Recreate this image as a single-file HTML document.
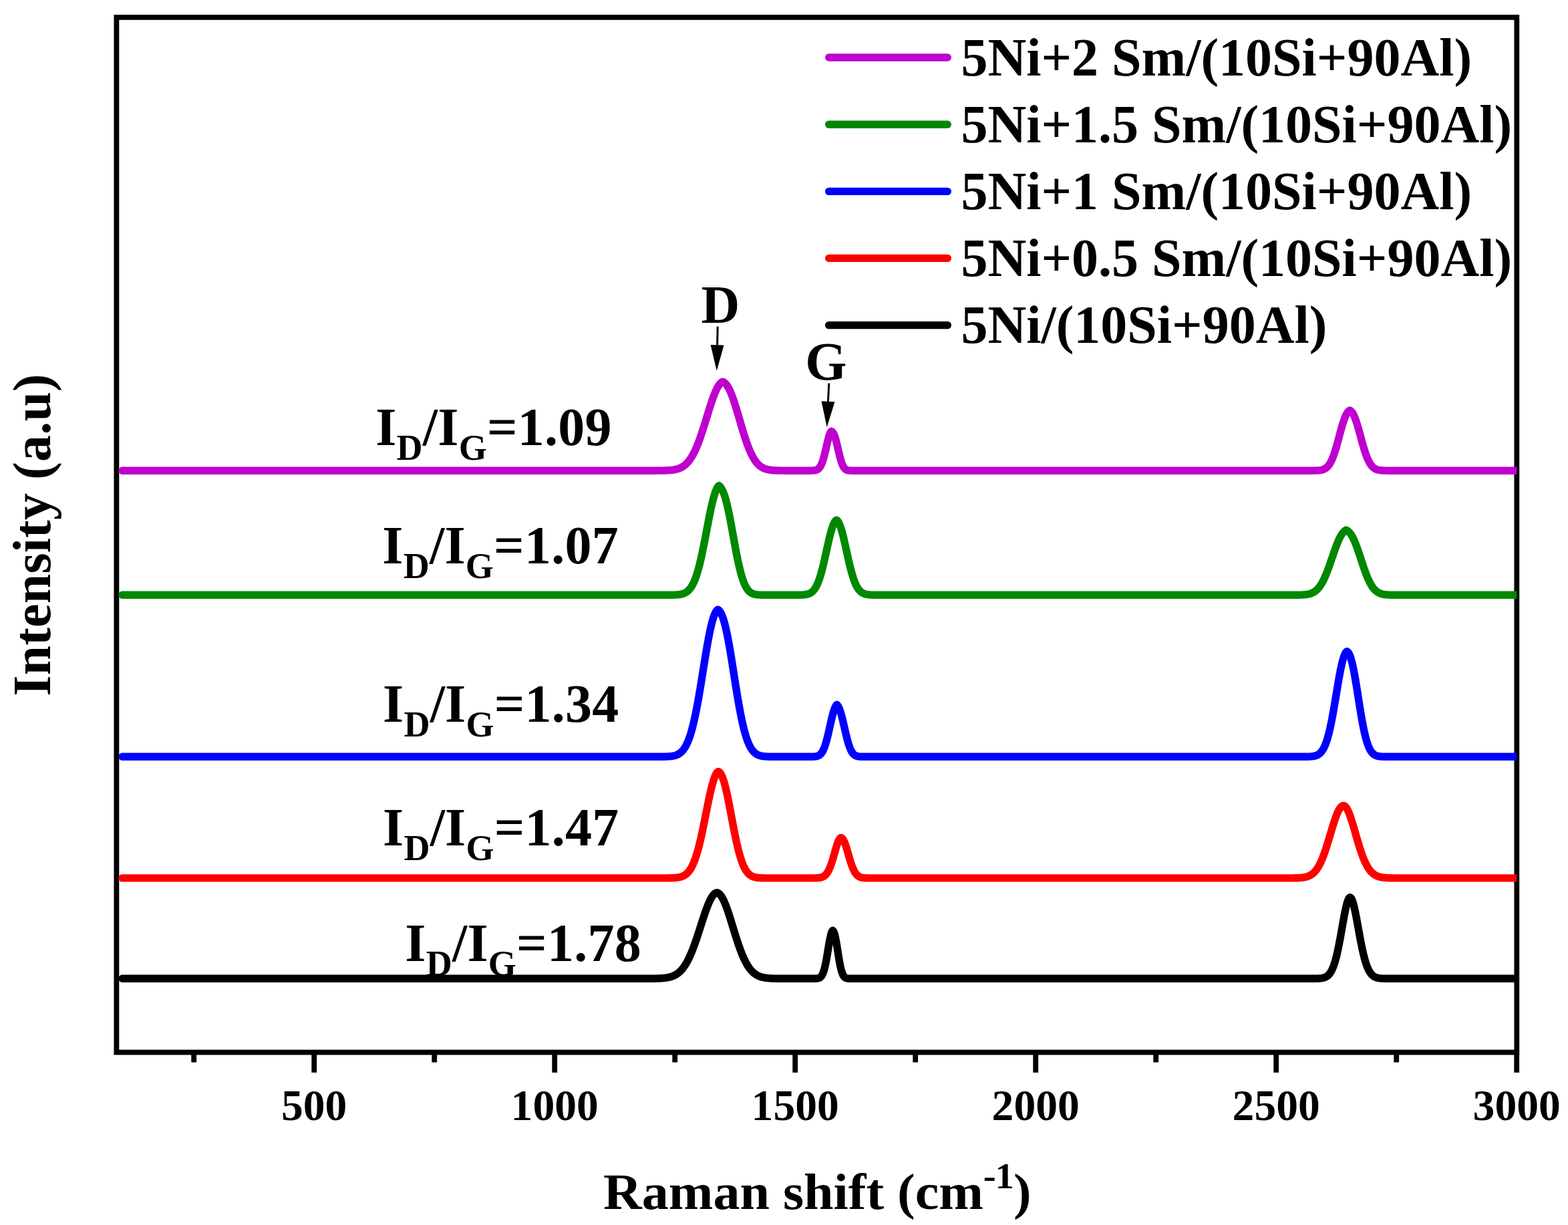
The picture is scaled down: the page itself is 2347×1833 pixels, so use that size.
<!DOCTYPE html>
<html lang="en"><head><meta charset="utf-8"><title>Raman spectra</title>
<style>html,body{margin:0;padding:0;background:#fff}body{width:2347px;height:1833px;overflow:hidden}svg{display:block}</style></head>
<body>
<svg width="2347" height="1833" viewBox="0 0 2347 1833">
<rect x="0" y="0" width="2347" height="1833" fill="#ffffff"/>
<g font-family="'Liberation Serif', serif" font-weight="bold" fill="#000">
<rect x="174.4" y="25.9" width="2095.9" height="1548.6999999999998" fill="none" stroke="#000" stroke-width="7.8"/>
<line x1="470.2" y1="1574.6" x2="470.2" y2="1604.9" stroke="#000" stroke-width="7.8"/>
<text x="470.2" y="1676.3" font-size="65.6" text-anchor="middle">500</text>
<line x1="830.2" y1="1574.6" x2="830.2" y2="1604.9" stroke="#000" stroke-width="7.8"/>
<text x="830.2" y="1676.3" font-size="65.6" text-anchor="middle">1000</text>
<line x1="1190.2" y1="1574.6" x2="1190.2" y2="1604.9" stroke="#000" stroke-width="7.8"/>
<text x="1190.2" y="1676.3" font-size="65.6" text-anchor="middle">1500</text>
<line x1="1550.2" y1="1574.6" x2="1550.2" y2="1604.9" stroke="#000" stroke-width="7.8"/>
<text x="1550.2" y="1676.3" font-size="65.6" text-anchor="middle">2000</text>
<line x1="1910.2" y1="1574.6" x2="1910.2" y2="1604.9" stroke="#000" stroke-width="7.8"/>
<text x="1910.2" y="1676.3" font-size="65.6" text-anchor="middle">2500</text>
<line x1="2270.2" y1="1574.6" x2="2270.2" y2="1604.9" stroke="#000" stroke-width="7.8"/>
<text x="2270.2" y="1676.3" font-size="65.6" text-anchor="middle">3000</text>
<line x1="290.2" y1="1574.6" x2="290.2" y2="1589.6" stroke="#000" stroke-width="7.8"/>
<line x1="650.2" y1="1574.6" x2="650.2" y2="1589.6" stroke="#000" stroke-width="7.8"/>
<line x1="1010.2" y1="1574.6" x2="1010.2" y2="1589.6" stroke="#000" stroke-width="7.8"/>
<line x1="1370.2" y1="1574.6" x2="1370.2" y2="1589.6" stroke="#000" stroke-width="7.8"/>
<line x1="1730.2" y1="1574.6" x2="1730.2" y2="1589.6" stroke="#000" stroke-width="7.8"/>
<line x1="2090.2" y1="1574.6" x2="2090.2" y2="1589.6" stroke="#000" stroke-width="7.8"/>
<text transform="translate(1223.3 1809.4) scale(1 0.945)" font-size="80" text-anchor="middle">Raman shift (cm<tspan font-size="57" dy="-32.9" letter-spacing="-1.2">-1</tspan><tspan dy="32.9">)</tspan></text>
<text transform="translate(75.3 800.4) rotate(-90)" font-size="80" text-anchor="middle" letter-spacing="0.17">Intensity (a.u)</text>
<text x="562.2" y="665.6" font-size="80" letter-spacing="0.25">I<tspan font-size="54" dy="22.4">D</tspan><tspan dy="-22.4">/I</tspan><tspan font-size="54" dy="22.4">G</tspan><tspan dy="-22.4">=1.09</tspan></text>
<text x="572.3" y="842.7" font-size="80" letter-spacing="0.25">I<tspan font-size="54" dy="22.4">D</tspan><tspan dy="-22.4">/I</tspan><tspan font-size="54" dy="22.4">G</tspan><tspan dy="-22.4">=1.07</tspan></text>
<text x="573.0" y="1079.7" font-size="80" letter-spacing="0.25">I<tspan font-size="54" dy="22.4">D</tspan><tspan dy="-22.4">/I</tspan><tspan font-size="54" dy="22.4">G</tspan><tspan dy="-22.4">=1.34</tspan></text>
<text x="573.0" y="1264.9" font-size="80" letter-spacing="0.25">I<tspan font-size="54" dy="22.4">D</tspan><tspan dy="-22.4">/I</tspan><tspan font-size="54" dy="22.4">G</tspan><tspan dy="-22.4">=1.47</tspan></text>
<text x="606.3" y="1437.8" font-size="80" letter-spacing="0.25">I<tspan font-size="54" dy="22.4">D</tspan><tspan dy="-22.4">/I</tspan><tspan font-size="54" dy="22.4">G</tspan><tspan dy="-22.4">=1.78</tspan></text>
<text x="1078.4" y="482.6" font-size="80" text-anchor="middle">D</text>
<text x="1236.3" y="567.7" font-size="80" text-anchor="middle">G</text>
<line x1="1074.2" y1="488.6" x2="1073.6" y2="516.3" stroke="#000" stroke-width="3.0"/>
<polygon points="1072.8,554.8 1063.6,516.1 1083.6,516.5" fill="#000"/>
<line x1="1240.8" y1="573.5" x2="1239.5" y2="600.7" stroke="#000" stroke-width="3.0"/>
<polygon points="1237.7,639.2 1229.5,600.3 1249.5,601.2" fill="#000"/>
<line x1="1240.7" y1="86.0" x2="1418.3" y2="86.0" stroke="#bf00cf" stroke-width="11.4" stroke-linecap="round"/>
<text x="1438.5" y="112.6" font-size="80" xml:space="preserve">5Ni+2 Sm/(10Si+90Al)</text>
<line x1="1240.7" y1="186.2" x2="1418.3" y2="186.2" stroke="#008800" stroke-width="11.4" stroke-linecap="round"/>
<text x="1438.5" y="212.8" font-size="80" xml:space="preserve">5Ni+1.5 Sm/(10Si+90Al)</text>
<line x1="1240.7" y1="286.4" x2="1418.3" y2="286.4" stroke="#0000ff" stroke-width="11.4" stroke-linecap="round"/>
<text x="1438.5" y="313.0" font-size="80" xml:space="preserve">5Ni+1 Sm/(10Si+90Al)</text>
<line x1="1240.7" y1="386.4" x2="1418.3" y2="386.4" stroke="#ff0000" stroke-width="11.4" stroke-linecap="round"/>
<text x="1438.5" y="413.0" font-size="80" xml:space="preserve">5Ni+0.5 Sm/(10Si+90Al)</text>
<line x1="1240.7" y1="486.6" x2="1418.3" y2="486.6" stroke="#000000" stroke-width="11.4" stroke-linecap="round"/>
<text x="1438.5" y="513.2" font-size="80" xml:space="preserve">5Ni/(10Si+90Al)</text>
</g>
<defs><clipPath id="cp"><rect x="0" y="0" width="2270.3" height="1833"/></clipPath></defs>
<g fill="none" stroke-linejoin="round" stroke-linecap="round" clip-path="url(#cp)">
<path d="M182.90 1464.30 L923.81 1464.30 L924.31 1464.30 L924.81 1464.30 L925.31 1464.30 L925.81 1464.30 L926.31 1464.30 L926.81 1464.30 L927.31 1464.30 L927.81 1464.30 L928.31 1464.30 L928.81 1464.30 L929.31 1464.30 L929.81 1464.30 L930.31 1464.30 L930.81 1464.30 L931.31 1464.30 L931.81 1464.30 L932.31 1464.30 L932.81 1464.30 L933.31 1464.30 L933.81 1464.30 L934.31 1464.30 L934.81 1464.30 L935.31 1464.30 L935.81 1464.30 L936.31 1464.30 L936.81 1464.30 L937.31 1464.30 L937.81 1464.30 L938.31 1464.30 L938.81 1464.30 L939.31 1464.30 L939.81 1464.30 L940.31 1464.30 L940.81 1464.30 L941.31 1464.30 L941.81 1464.30 L942.31 1464.30 L942.81 1464.30 L943.31 1464.30 L943.81 1464.30 L944.31 1464.30 L944.81 1464.30 L945.31 1464.30 L945.81 1464.30 L946.31 1464.30 L946.81 1464.30 L947.31 1464.30 L947.81 1464.30 L948.31 1464.30 L948.81 1464.30 L949.31 1464.30 L949.81 1464.30 L950.31 1464.30 L950.81 1464.30 L951.31 1464.30 L951.81 1464.30 L952.31 1464.30 L952.81 1464.30 L953.31 1464.30 L953.81 1464.30 L954.31 1464.30 L954.81 1464.30 L955.31 1464.30 L955.81 1464.30 L956.31 1464.30 L956.81 1464.30 L957.31 1464.30 L957.81 1464.30 L958.31 1464.30 L958.81 1464.30 L959.31 1464.30 L959.81 1464.30 L960.31 1464.30 L960.81 1464.29 L961.31 1464.29 L961.81 1464.29 L962.31 1464.29 L962.81 1464.29 L963.31 1464.29 L963.81 1464.29 L964.31 1464.29 L964.81 1464.29 L965.31 1464.29 L965.81 1464.29 L966.31 1464.29 L966.81 1464.29 L967.31 1464.28 L967.81 1464.28 L968.31 1464.28 L968.81 1464.28 L969.31 1464.28 L969.81 1464.28 L970.31 1464.27 L970.81 1464.27 L971.31 1464.27 L971.81 1464.27 L972.31 1464.26 L972.81 1464.26 L973.31 1464.26 L973.81 1464.25 L974.31 1464.25 L974.81 1464.25 L975.31 1464.24 L975.81 1464.24 L976.31 1464.23 L976.81 1464.23 L977.31 1464.22 L977.81 1464.21 L978.31 1464.21 L978.81 1464.20 L979.31 1464.19 L979.81 1464.18 L980.31 1464.17 L980.81 1464.16 L981.31 1464.15 L981.81 1464.14 L982.31 1464.13 L982.81 1464.12 L983.31 1464.10 L983.81 1464.09 L984.31 1464.07 L984.81 1464.06 L985.31 1464.04 L985.81 1464.02 L986.31 1464.00 L986.81 1463.98 L987.31 1463.96 L987.81 1463.93 L988.31 1463.91 L988.81 1463.88 L989.31 1463.85 L989.81 1463.82 L990.31 1463.79 L990.81 1463.75 L991.31 1463.71 L991.81 1463.67 L992.31 1463.63 L992.81 1463.59 L993.31 1463.54 L993.81 1463.49 L994.31 1463.44 L994.81 1463.38 L995.31 1463.32 L995.81 1463.26 L996.31 1463.20 L996.81 1463.13 L997.31 1463.05 L997.81 1462.98 L998.31 1462.89 L998.81 1462.81 L999.31 1462.72 L999.81 1462.62 L1000.31 1462.52 L1000.81 1462.41 L1001.31 1462.30 L1001.81 1462.18 L1002.31 1462.06 L1002.81 1461.93 L1003.31 1461.79 L1003.81 1461.65 L1004.31 1461.50 L1004.81 1461.34 L1005.31 1461.18 L1005.81 1461.00 L1006.31 1460.82 L1006.81 1460.63 L1007.31 1460.43 L1007.81 1460.22 L1008.31 1460.01 L1008.81 1459.78 L1009.31 1459.54 L1009.81 1459.29 L1010.31 1459.03 L1010.81 1458.76 L1011.31 1458.48 L1011.81 1458.19 L1012.31 1457.88 L1012.81 1457.56 L1013.31 1457.23 L1013.81 1456.88 L1014.31 1456.52 L1014.81 1456.15 L1015.31 1455.76 L1015.81 1455.36 L1016.31 1454.94 L1016.81 1454.50 L1017.31 1454.05 L1017.81 1453.58 L1018.31 1453.10 L1018.81 1452.60 L1019.31 1452.08 L1019.81 1451.54 L1020.31 1450.99 L1020.81 1450.41 L1021.31 1449.82 L1021.81 1449.20 L1022.31 1448.57 L1022.81 1447.92 L1023.31 1447.25 L1023.81 1446.55 L1024.31 1445.84 L1024.81 1445.10 L1025.31 1444.35 L1025.81 1443.57 L1026.31 1442.77 L1026.81 1441.95 L1027.31 1441.10 L1027.81 1440.23 L1028.31 1439.34 L1028.81 1438.43 L1029.31 1437.50 L1029.81 1436.54 L1030.31 1435.56 L1030.81 1434.55 L1031.31 1433.53 L1031.81 1432.48 L1032.31 1431.41 L1032.81 1430.31 L1033.31 1429.19 L1033.81 1428.05 L1034.31 1426.89 L1034.81 1425.71 L1035.31 1424.50 L1035.81 1423.28 L1036.31 1422.03 L1036.81 1420.76 L1037.31 1419.47 L1037.81 1418.16 L1038.31 1416.83 L1038.81 1415.48 L1039.31 1414.12 L1039.81 1412.73 L1040.31 1411.33 L1040.81 1409.92 L1041.31 1408.48 L1041.81 1407.04 L1042.31 1405.57 L1042.81 1404.10 L1043.31 1402.61 L1043.81 1401.11 L1044.31 1399.60 L1044.81 1398.08 L1045.31 1396.55 L1045.81 1395.01 L1046.31 1393.47 L1046.81 1391.92 L1047.31 1390.37 L1047.81 1388.81 L1048.31 1387.25 L1048.81 1385.69 L1049.31 1384.13 L1049.81 1382.57 L1050.31 1381.02 L1050.81 1379.47 L1051.31 1377.92 L1051.81 1376.38 L1052.31 1374.85 L1052.81 1373.33 L1053.31 1371.82 L1053.81 1370.33 L1054.31 1368.84 L1054.81 1367.38 L1055.31 1365.92 L1055.81 1364.49 L1056.31 1363.08 L1056.81 1361.68 L1057.31 1360.31 L1057.81 1358.97 L1058.31 1357.65 L1058.81 1356.35 L1059.31 1355.09 L1059.81 1353.85 L1060.31 1352.64 L1060.81 1351.47 L1061.31 1350.33 L1061.81 1349.22 L1062.31 1348.15 L1062.81 1347.12 L1063.31 1346.12 L1063.81 1345.16 L1064.31 1344.25 L1064.81 1343.38 L1065.31 1342.54 L1065.81 1341.76 L1066.31 1341.02 L1066.81 1340.32 L1067.31 1339.67 L1067.81 1339.06 L1068.31 1338.51 L1068.81 1338.00 L1069.31 1337.54 L1069.81 1337.14 L1070.31 1336.78 L1070.81 1336.47 L1071.31 1336.22 L1071.81 1336.02 L1072.31 1335.87 L1072.81 1335.77 L1073.31 1335.79 L1073.81 1335.90 L1074.31 1336.05 L1074.81 1336.26 L1075.31 1336.52 L1075.81 1336.84 L1076.31 1337.20 L1076.81 1337.62 L1077.31 1338.09 L1077.81 1338.61 L1078.31 1339.18 L1078.81 1339.81 L1079.31 1340.48 L1079.81 1341.20 L1080.31 1341.97 L1080.81 1342.79 L1081.31 1343.65 L1081.81 1344.56 L1082.31 1345.52 L1082.81 1346.51 L1083.31 1347.55 L1083.81 1348.64 L1084.31 1349.76 L1084.81 1350.92 L1085.31 1352.11 L1085.81 1353.35 L1086.31 1354.62 L1086.81 1355.92 L1087.31 1357.25 L1087.81 1358.61 L1088.31 1360.00 L1088.81 1361.42 L1089.31 1362.86 L1089.81 1364.33 L1090.31 1365.82 L1090.81 1367.33 L1091.31 1368.86 L1091.81 1370.41 L1092.31 1371.97 L1092.81 1373.55 L1093.31 1375.14 L1093.81 1376.74 L1094.31 1378.35 L1094.81 1379.97 L1095.31 1381.59 L1095.81 1383.22 L1096.31 1384.86 L1096.81 1386.49 L1097.31 1388.13 L1097.81 1389.76 L1098.31 1391.39 L1098.81 1393.02 L1099.31 1394.65 L1099.81 1396.26 L1100.31 1397.87 L1100.81 1399.47 L1101.31 1401.06 L1101.81 1402.64 L1102.31 1404.21 L1102.81 1405.76 L1103.31 1407.30 L1103.81 1408.82 L1104.31 1410.33 L1104.81 1411.82 L1105.31 1413.29 L1105.81 1414.74 L1106.31 1416.17 L1106.81 1417.58 L1107.31 1418.98 L1107.81 1420.35 L1108.31 1421.69 L1108.81 1423.02 L1109.31 1424.32 L1109.81 1425.60 L1110.31 1426.85 L1110.81 1428.09 L1111.31 1429.29 L1111.81 1430.47 L1112.31 1431.63 L1112.81 1432.76 L1113.31 1433.86 L1113.81 1434.95 L1114.31 1436.00 L1114.81 1437.03 L1115.31 1438.03 L1115.81 1439.01 L1116.31 1439.96 L1116.81 1440.89 L1117.31 1441.79 L1117.81 1442.67 L1118.31 1443.53 L1118.81 1444.35 L1119.31 1445.16 L1119.81 1445.94 L1120.31 1446.69 L1120.81 1447.43 L1121.31 1448.14 L1121.81 1448.82 L1122.31 1449.49 L1122.81 1450.13 L1123.31 1450.75 L1123.81 1451.35 L1124.31 1451.93 L1124.81 1452.49 L1125.31 1453.03 L1125.81 1453.55 L1126.31 1454.04 L1126.81 1454.53 L1127.31 1454.99 L1127.81 1455.43 L1128.31 1455.86 L1128.81 1456.27 L1129.31 1456.66 L1129.81 1457.04 L1130.31 1457.41 L1130.81 1457.75 L1131.31 1458.09 L1131.81 1458.40 L1132.31 1458.71 L1132.81 1459.00 L1133.31 1459.28 L1133.81 1459.54 L1134.31 1459.80 L1134.81 1460.04 L1135.31 1460.27 L1135.81 1460.49 L1136.31 1460.70 L1136.81 1460.90 L1137.31 1461.09 L1137.81 1461.27 L1138.31 1461.45 L1138.81 1461.61 L1139.31 1461.77 L1139.81 1461.91 L1140.31 1462.05 L1140.81 1462.19 L1141.31 1462.31 L1141.81 1462.43 L1142.31 1462.54 L1142.81 1462.65 L1143.31 1462.75 L1143.81 1462.85 L1144.31 1462.94 L1144.81 1463.02 L1145.31 1463.10 L1145.81 1463.18 L1146.31 1463.25 L1146.81 1463.32 L1147.31 1463.38 L1147.81 1463.44 L1148.31 1463.50 L1148.81 1463.55 L1149.31 1463.60 L1149.81 1463.65 L1150.31 1463.69 L1150.81 1463.73 L1151.31 1463.77 L1151.81 1463.81 L1152.31 1463.84 L1152.81 1463.87 L1153.31 1463.90 L1153.81 1463.93 L1154.31 1463.96 L1154.81 1463.98 L1155.31 1464.00 L1155.81 1464.03 L1156.31 1464.05 L1156.81 1464.06 L1157.31 1464.08 L1157.81 1464.10 L1158.31 1464.11 L1158.81 1464.13 L1159.31 1464.14 L1159.81 1464.15 L1160.31 1464.16 L1160.81 1464.17 L1161.31 1464.18 L1161.81 1464.19 L1162.31 1464.20 L1162.81 1464.21 L1163.31 1464.22 L1163.81 1464.22 L1164.31 1464.23 L1164.81 1464.23 L1165.31 1464.24 L1165.81 1464.24 L1166.31 1464.25 L1166.81 1464.25 L1167.31 1464.26 L1167.81 1464.26 L1168.31 1464.26 L1168.81 1464.27 L1169.31 1464.27 L1169.81 1464.27 L1170.31 1464.27 L1170.81 1464.28 L1171.31 1464.28 L1171.81 1464.28 L1172.31 1464.28 L1172.81 1464.28 L1173.31 1464.29 L1173.81 1464.29 L1174.31 1464.29 L1174.81 1464.29 L1175.31 1464.29 L1175.81 1464.29 L1176.31 1464.29 L1176.81 1464.29 L1177.31 1464.29 L1177.81 1464.29 L1178.31 1464.29 L1178.81 1464.29 L1179.31 1464.30 L1179.81 1464.30 L1180.31 1464.30 L1180.81 1464.30 L1181.31 1464.30 L1181.81 1464.30 L1182.31 1464.30 L1182.81 1464.30 L1183.31 1464.30 L1183.81 1464.30 L1184.31 1464.30 L1184.81 1464.30 L1185.31 1464.30 L1185.81 1464.30 L1186.31 1464.30 L1186.81 1464.30 L1187.31 1464.30 L1187.81 1464.30 L1188.31 1464.30 L1188.81 1464.30 L1189.31 1464.30 L1189.81 1464.30 L1190.31 1464.30 L1190.81 1464.30 L1191.31 1464.30 L1191.81 1464.30 L1192.31 1464.30 L1192.81 1464.30 L1193.31 1464.30 L1193.81 1464.30 L1194.31 1464.30 L1194.81 1464.30 L1195.31 1464.30 L1195.81 1464.30 L1196.31 1464.30 L1196.81 1464.30 L1197.31 1464.30 L1197.81 1464.30 L1198.31 1464.30 L1198.81 1464.30 L1199.31 1464.30 L1199.81 1464.30 L1200.31 1464.30 L1200.81 1464.30 L1201.31 1464.30 L1201.56 1464.30 L1201.81 1464.30 L1202.06 1464.30 L1202.31 1464.30 L1202.56 1464.30 L1202.81 1464.30 L1203.06 1464.30 L1203.31 1464.30 L1203.56 1464.30 L1203.81 1464.30 L1204.06 1464.30 L1204.31 1464.30 L1204.56 1464.30 L1204.81 1464.30 L1205.06 1464.30 L1205.31 1464.30 L1205.56 1464.30 L1205.81 1464.30 L1206.06 1464.30 L1206.31 1464.30 L1206.56 1464.30 L1206.81 1464.30 L1207.06 1464.30 L1207.31 1464.30 L1207.56 1464.30 L1207.81 1464.30 L1208.06 1464.30 L1208.31 1464.30 L1208.56 1464.30 L1208.81 1464.30 L1209.06 1464.30 L1209.31 1464.30 L1209.56 1464.30 L1209.81 1464.30 L1210.06 1464.30 L1210.31 1464.30 L1210.56 1464.30 L1210.81 1464.30 L1211.06 1464.30 L1211.31 1464.30 L1211.56 1464.30 L1211.81 1464.30 L1212.06 1464.30 L1212.31 1464.30 L1212.56 1464.30 L1212.81 1464.30 L1213.06 1464.30 L1213.31 1464.30 L1213.56 1464.30 L1213.81 1464.30 L1214.06 1464.30 L1214.31 1464.30 L1214.56 1464.30 L1214.81 1464.30 L1215.06 1464.30 L1215.31 1464.30 L1215.56 1464.30 L1215.81 1464.30 L1216.06 1464.30 L1216.31 1464.30 L1216.56 1464.29 L1216.81 1464.29 L1217.06 1464.29 L1217.31 1464.29 L1217.56 1464.29 L1217.81 1464.29 L1218.06 1464.29 L1218.56 1464.28 L1219.06 1464.27 L1219.56 1464.26 L1220.06 1464.25 L1220.56 1464.24 L1221.06 1464.22 L1221.56 1464.19 L1222.06 1464.16 L1222.56 1464.12 L1223.06 1464.06 L1223.56 1464.00 L1224.06 1463.91 L1224.56 1463.81 L1225.06 1463.68 L1225.56 1463.53 L1226.06 1463.34 L1226.56 1463.11 L1227.06 1462.84 L1227.56 1462.51 L1228.06 1462.12 L1228.56 1461.66 L1229.06 1461.13 L1229.56 1460.50 L1230.06 1459.78 L1230.56 1458.96 L1231.06 1458.01 L1231.56 1456.94 L1232.06 1455.73 L1232.56 1454.38 L1233.06 1452.88 L1233.56 1451.23 L1234.06 1449.41 L1234.56 1447.44 L1235.06 1445.30 L1235.56 1443.01 L1236.06 1440.57 L1236.56 1437.99 L1237.06 1435.28 L1237.56 1432.45 L1238.06 1429.54 L1238.56 1426.55 L1239.06 1423.52 L1239.56 1420.47 L1240.06 1417.44 L1240.56 1414.44 L1241.06 1411.52 L1241.56 1408.70 L1242.06 1406.02 L1242.56 1403.51 L1243.06 1401.20 L1243.56 1399.11 L1244.06 1397.26 L1244.56 1395.68 L1245.06 1394.38 L1245.56 1393.36 L1246.06 1392.62 L1246.56 1392.36 L1247.06 1392.88 L1247.56 1393.62 L1248.06 1394.60 L1248.56 1395.85 L1249.06 1397.36 L1249.56 1399.14 L1250.06 1401.18 L1250.56 1403.45 L1251.06 1405.95 L1251.56 1408.63 L1252.06 1411.49 L1252.56 1414.48 L1253.06 1417.56 L1253.56 1420.71 L1254.06 1423.89 L1254.56 1427.07 L1255.06 1430.20 L1255.56 1433.27 L1256.06 1436.24 L1256.56 1439.09 L1257.06 1441.80 L1257.56 1444.34 L1258.06 1446.72 L1258.56 1448.92 L1259.06 1450.94 L1259.56 1452.77 L1260.06 1454.42 L1260.56 1455.89 L1261.06 1457.20 L1261.56 1458.34 L1262.06 1459.34 L1262.56 1460.20 L1263.06 1460.94 L1263.56 1461.56 L1264.06 1462.09 L1264.56 1462.52 L1265.06 1462.89 L1265.56 1463.18 L1266.06 1463.42 L1266.56 1463.62 L1267.06 1463.77 L1267.56 1463.90 L1268.06 1463.99 L1268.56 1464.07 L1269.06 1464.13 L1269.56 1464.17 L1270.06 1464.21 L1270.56 1464.23 L1271.06 1464.25 L1271.56 1464.26 L1272.06 1464.27 L1272.56 1464.28 L1273.06 1464.29 L1273.56 1464.29 L1274.06 1464.29 L1274.56 1464.30 L1275.06 1464.30 L1275.56 1464.30 L1276.06 1464.30 L1276.56 1464.30 L1277.06 1464.30 L1277.56 1464.30 L1278.06 1464.30 L1278.56 1464.30 L1279.06 1464.30 L1279.56 1464.30 L1280.06 1464.30 L1280.56 1464.30 L1281.06 1464.30 L1281.56 1464.30 L1282.06 1464.30 L1282.56 1464.30 L1283.06 1464.30 L1283.56 1464.30 L1284.06 1464.30 L1284.56 1464.30 L1285.06 1464.30 L1285.56 1464.30 L1286.06 1464.30 L1286.56 1464.30 L1287.06 1464.30 L1287.56 1464.30 L1288.06 1464.30 L1288.56 1464.30 L1289.06 1464.30 L1289.56 1464.30 L1290.06 1464.30 L1290.56 1464.30 L1291.06 1464.30 L1291.56 1464.30 L1292.06 1464.30 L1946.01 1464.30 L1946.51 1464.30 L1947.01 1464.30 L1947.51 1464.30 L1948.01 1464.30 L1948.51 1464.30 L1949.01 1464.30 L1949.51 1464.30 L1950.01 1464.30 L1950.51 1464.30 L1951.01 1464.30 L1951.51 1464.30 L1952.01 1464.30 L1952.51 1464.30 L1953.01 1464.30 L1953.51 1464.30 L1954.01 1464.30 L1954.51 1464.30 L1955.01 1464.30 L1955.51 1464.30 L1956.01 1464.30 L1956.51 1464.30 L1957.01 1464.30 L1957.51 1464.30 L1958.01 1464.30 L1958.51 1464.30 L1959.01 1464.30 L1959.51 1464.30 L1960.01 1464.30 L1960.51 1464.30 L1961.01 1464.30 L1961.51 1464.29 L1962.01 1464.29 L1962.51 1464.29 L1963.01 1464.29 L1963.51 1464.29 L1964.01 1464.29 L1964.51 1464.29 L1965.01 1464.28 L1965.51 1464.28 L1966.01 1464.28 L1966.51 1464.27 L1967.01 1464.27 L1967.51 1464.26 L1968.01 1464.26 L1968.51 1464.25 L1969.01 1464.24 L1969.51 1464.24 L1970.01 1464.23 L1970.51 1464.22 L1971.01 1464.20 L1971.51 1464.19 L1972.01 1464.17 L1972.51 1464.15 L1973.01 1464.13 L1973.51 1464.11 L1974.01 1464.08 L1974.51 1464.05 L1975.01 1464.02 L1975.51 1463.98 L1976.01 1463.94 L1976.51 1463.89 L1977.01 1463.84 L1977.51 1463.78 L1978.01 1463.72 L1978.51 1463.64 L1979.01 1463.56 L1979.51 1463.47 L1980.01 1463.37 L1980.51 1463.26 L1981.01 1463.13 L1981.51 1462.99 L1982.01 1462.84 L1982.51 1462.68 L1983.01 1462.49 L1983.51 1462.29 L1984.01 1462.07 L1984.51 1461.83 L1985.01 1461.56 L1985.51 1461.27 L1986.01 1460.95 L1986.51 1460.61 L1987.01 1460.23 L1987.51 1459.82 L1988.01 1459.38 L1988.51 1458.90 L1989.01 1458.38 L1989.51 1457.82 L1990.01 1457.22 L1990.51 1456.57 L1991.01 1455.88 L1991.51 1455.13 L1992.01 1454.33 L1992.51 1453.47 L1993.01 1452.56 L1993.51 1451.58 L1994.01 1450.54 L1994.51 1449.44 L1995.01 1448.27 L1995.51 1447.03 L1996.01 1445.72 L1996.51 1444.34 L1997.01 1442.88 L1997.51 1441.35 L1998.01 1439.74 L1998.51 1438.05 L1999.01 1436.29 L1999.51 1434.44 L2000.01 1432.52 L2000.51 1430.52 L2001.01 1428.45 L2001.51 1426.30 L2002.01 1424.07 L2002.51 1421.77 L2003.01 1419.40 L2003.51 1416.97 L2004.01 1414.47 L2004.51 1411.92 L2005.01 1409.30 L2005.51 1406.64 L2006.01 1403.93 L2006.51 1401.19 L2007.01 1398.41 L2007.51 1395.61 L2008.01 1392.78 L2008.51 1389.95 L2009.01 1387.11 L2009.51 1384.28 L2010.01 1381.46 L2010.51 1378.67 L2011.01 1375.91 L2011.51 1373.19 L2012.01 1370.53 L2012.51 1367.93 L2013.01 1365.40 L2013.51 1362.95 L2014.01 1360.59 L2014.51 1358.34 L2015.01 1356.20 L2015.51 1354.19 L2016.01 1352.31 L2016.51 1350.57 L2017.01 1348.98 L2017.51 1347.55 L2018.01 1346.29 L2018.51 1345.20 L2019.01 1344.30 L2019.51 1343.60 L2020.01 1343.10 L2020.51 1342.81 L2021.01 1342.78 L2021.51 1343.02 L2022.01 1343.47 L2022.51 1344.13 L2023.01 1344.97 L2023.51 1346.00 L2024.01 1347.20 L2024.51 1348.57 L2025.01 1350.09 L2025.51 1351.77 L2026.01 1353.58 L2026.51 1355.52 L2027.01 1357.58 L2027.51 1359.76 L2028.01 1362.03 L2028.51 1364.40 L2029.01 1366.86 L2029.51 1369.38 L2030.01 1371.97 L2030.51 1374.61 L2031.01 1377.30 L2031.51 1380.02 L2032.01 1382.77 L2032.51 1385.54 L2033.01 1388.32 L2033.51 1391.09 L2034.01 1393.86 L2034.51 1396.62 L2035.01 1399.36 L2035.51 1402.07 L2036.01 1404.74 L2036.51 1407.38 L2037.01 1409.97 L2037.51 1412.51 L2038.01 1414.99 L2038.51 1417.42 L2039.01 1419.79 L2039.51 1422.09 L2040.01 1424.33 L2040.51 1426.49 L2041.01 1428.59 L2041.51 1430.61 L2042.01 1432.56 L2042.51 1434.43 L2043.01 1436.23 L2043.51 1437.96 L2044.01 1439.61 L2044.51 1441.18 L2045.01 1442.69 L2045.51 1444.12 L2046.01 1445.48 L2046.51 1446.77 L2047.01 1447.99 L2047.51 1449.15 L2048.01 1450.24 L2048.51 1451.27 L2049.01 1452.24 L2049.51 1453.15 L2050.01 1454.01 L2050.51 1454.81 L2051.01 1455.56 L2051.51 1456.26 L2052.01 1456.91 L2052.51 1457.52 L2053.01 1458.09 L2053.51 1458.61 L2054.01 1459.10 L2054.51 1459.55 L2055.01 1459.97 L2055.51 1460.36 L2056.01 1460.71 L2056.51 1461.04 L2057.01 1461.34 L2057.51 1461.62 L2058.01 1461.87 L2058.51 1462.11 L2059.01 1462.32 L2059.51 1462.51 L2060.01 1462.69 L2060.51 1462.85 L2061.01 1463.00 L2061.51 1463.13 L2062.01 1463.25 L2062.51 1463.36 L2063.01 1463.46 L2063.51 1463.55 L2064.01 1463.63 L2064.51 1463.70 L2065.01 1463.77 L2065.51 1463.83 L2066.01 1463.88 L2066.51 1463.93 L2067.01 1463.97 L2067.51 1464.01 L2068.01 1464.04 L2068.51 1464.07 L2069.01 1464.10 L2069.51 1464.12 L2070.01 1464.14 L2070.51 1464.16 L2071.01 1464.18 L2071.51 1464.20 L2072.01 1464.21 L2072.51 1464.22 L2073.01 1464.23 L2073.51 1464.24 L2074.01 1464.25 L2074.51 1464.25 L2075.01 1464.26 L2075.51 1464.27 L2076.01 1464.27 L2076.51 1464.27 L2077.01 1464.28 L2077.51 1464.28 L2078.01 1464.28 L2078.51 1464.29 L2079.01 1464.29 L2079.51 1464.29 L2080.01 1464.29 L2080.51 1464.29 L2081.01 1464.29 L2081.51 1464.29 L2082.01 1464.29 L2082.51 1464.30 L2083.01 1464.30 L2083.51 1464.30 L2084.01 1464.30 L2084.51 1464.30 L2085.01 1464.30 L2085.51 1464.30 L2086.01 1464.30 L2086.51 1464.30 L2087.01 1464.30 L2087.51 1464.30 L2088.01 1464.30 L2088.51 1464.30 L2089.01 1464.30 L2089.51 1464.30 L2090.01 1464.30 L2090.51 1464.30 L2091.01 1464.30 L2091.51 1464.30 L2092.01 1464.30 L2092.51 1464.30 L2093.01 1464.30 L2093.51 1464.30 L2094.01 1464.30 L2094.51 1464.30 L2095.01 1464.30 L2095.51 1464.30 L2096.01 1464.30 L2096.51 1464.30 L2270.30 1464.30 L2290.3 1464.30" stroke="#000000" stroke-width="11.4"/>
<path d="M182.90 1313.90 L957.85 1313.90 L958.35 1313.90 L958.85 1313.90 L959.35 1313.90 L959.85 1313.90 L960.35 1313.90 L960.85 1313.90 L961.35 1313.90 L961.85 1313.90 L962.35 1313.90 L962.85 1313.90 L963.35 1313.90 L963.85 1313.90 L964.35 1313.90 L964.85 1313.90 L965.35 1313.90 L965.85 1313.90 L966.35 1313.90 L966.85 1313.90 L967.35 1313.90 L967.85 1313.90 L968.35 1313.90 L968.85 1313.90 L969.35 1313.90 L969.85 1313.90 L970.35 1313.90 L970.85 1313.90 L971.35 1313.90 L971.85 1313.90 L972.35 1313.90 L972.85 1313.90 L973.35 1313.90 L973.85 1313.90 L974.35 1313.90 L974.85 1313.90 L975.35 1313.90 L975.85 1313.90 L976.35 1313.90 L976.85 1313.90 L977.35 1313.90 L977.85 1313.90 L978.35 1313.90 L978.85 1313.90 L979.35 1313.90 L979.85 1313.90 L980.35 1313.90 L980.85 1313.90 L981.35 1313.90 L981.85 1313.90 L982.35 1313.90 L982.85 1313.90 L983.35 1313.90 L983.85 1313.90 L984.35 1313.90 L984.85 1313.90 L985.35 1313.90 L985.85 1313.90 L986.35 1313.90 L986.85 1313.90 L987.35 1313.90 L987.85 1313.90 L988.35 1313.90 L988.85 1313.90 L989.35 1313.90 L989.85 1313.90 L990.35 1313.89 L990.85 1313.89 L991.35 1313.89 L991.85 1313.89 L992.35 1313.89 L992.85 1313.89 L993.35 1313.89 L993.85 1313.89 L994.35 1313.89 L994.85 1313.88 L995.35 1313.88 L995.85 1313.88 L996.35 1313.88 L996.85 1313.87 L997.35 1313.87 L997.85 1313.87 L998.35 1313.86 L998.85 1313.86 L999.35 1313.86 L999.85 1313.85 L1000.35 1313.85 L1000.85 1313.84 L1001.35 1313.83 L1001.85 1313.82 L1002.35 1313.82 L1002.85 1313.81 L1003.35 1313.80 L1003.85 1313.79 L1004.35 1313.77 L1004.85 1313.76 L1005.35 1313.75 L1005.85 1313.73 L1006.35 1313.71 L1006.85 1313.69 L1007.35 1313.67 L1007.85 1313.65 L1008.35 1313.62 L1008.85 1313.59 L1009.35 1313.56 L1009.85 1313.53 L1010.35 1313.50 L1010.85 1313.46 L1011.35 1313.41 L1011.85 1313.37 L1012.35 1313.32 L1012.85 1313.26 L1013.35 1313.20 L1013.85 1313.14 L1014.35 1313.07 L1014.85 1313.00 L1015.35 1312.92 L1015.85 1312.83 L1016.35 1312.74 L1016.85 1312.63 L1017.35 1312.52 L1017.85 1312.41 L1018.35 1312.28 L1018.85 1312.15 L1019.35 1312.00 L1019.85 1311.84 L1020.35 1311.68 L1020.85 1311.50 L1021.35 1311.30 L1021.85 1311.10 L1022.35 1310.88 L1022.85 1310.65 L1023.35 1310.40 L1023.85 1310.13 L1024.35 1309.85 L1024.85 1309.55 L1025.35 1309.22 L1025.85 1308.88 L1026.35 1308.52 L1026.85 1308.14 L1027.35 1307.73 L1027.85 1307.30 L1028.35 1306.85 L1028.85 1306.37 L1029.35 1305.86 L1029.85 1305.32 L1030.35 1304.75 L1030.85 1304.16 L1031.35 1303.53 L1031.85 1302.87 L1032.35 1302.18 L1032.85 1301.45 L1033.35 1300.69 L1033.85 1299.89 L1034.35 1299.05 L1034.85 1298.17 L1035.35 1297.25 L1035.85 1296.30 L1036.35 1295.30 L1036.85 1294.25 L1037.35 1293.17 L1037.85 1292.04 L1038.35 1290.86 L1038.85 1289.64 L1039.35 1288.37 L1039.85 1287.06 L1040.35 1285.70 L1040.85 1284.29 L1041.35 1282.83 L1041.85 1281.32 L1042.35 1279.76 L1042.85 1278.16 L1043.35 1276.50 L1043.85 1274.80 L1044.35 1273.05 L1044.85 1271.24 L1045.35 1269.40 L1045.85 1267.50 L1046.35 1265.56 L1046.85 1263.57 L1047.35 1261.54 L1047.85 1259.46 L1048.35 1257.34 L1048.85 1255.18 L1049.35 1252.98 L1049.85 1250.75 L1050.35 1248.47 L1050.85 1246.16 L1051.35 1243.82 L1051.85 1241.45 L1052.35 1239.06 L1052.85 1236.63 L1053.35 1234.19 L1053.85 1231.72 L1054.35 1229.24 L1054.85 1226.74 L1055.35 1224.23 L1055.85 1221.71 L1056.35 1219.19 L1056.85 1216.67 L1057.35 1214.15 L1057.85 1211.63 L1058.35 1209.12 L1058.85 1206.63 L1059.35 1204.15 L1059.85 1201.69 L1060.35 1199.26 L1060.85 1196.85 L1061.35 1194.48 L1061.85 1192.14 L1062.35 1189.84 L1062.85 1187.58 L1063.35 1185.37 L1063.85 1183.21 L1064.35 1181.10 L1064.85 1179.05 L1065.35 1177.06 L1065.85 1175.14 L1066.35 1173.28 L1066.85 1171.49 L1067.35 1169.78 L1067.85 1168.15 L1068.35 1166.59 L1068.85 1165.12 L1069.35 1163.73 L1069.85 1162.43 L1070.35 1161.22 L1070.85 1160.10 L1071.35 1159.07 L1071.85 1158.14 L1072.35 1157.30 L1072.85 1156.56 L1073.35 1155.92 L1073.85 1155.37 L1074.35 1154.92 L1074.85 1154.56 L1075.35 1154.40 L1075.85 1154.67 L1076.35 1155.01 L1076.85 1155.42 L1077.35 1155.91 L1077.85 1156.49 L1078.35 1157.15 L1078.85 1157.90 L1079.35 1158.74 L1079.85 1159.68 L1080.35 1160.70 L1080.85 1161.81 L1081.35 1163.02 L1081.85 1164.31 L1082.35 1165.70 L1082.85 1167.17 L1083.35 1168.73 L1083.85 1170.37 L1084.35 1172.10 L1084.85 1173.91 L1085.35 1175.79 L1085.85 1177.75 L1086.35 1179.78 L1086.85 1181.88 L1087.35 1184.05 L1087.85 1186.27 L1088.35 1188.56 L1088.85 1190.90 L1089.35 1193.29 L1089.85 1195.72 L1090.35 1198.20 L1090.85 1200.72 L1091.35 1203.27 L1091.85 1205.85 L1092.35 1208.45 L1092.85 1211.08 L1093.35 1213.72 L1093.85 1216.37 L1094.35 1219.04 L1094.85 1221.71 L1095.35 1224.37 L1095.85 1227.04 L1096.35 1229.69 L1096.85 1232.33 L1097.35 1234.96 L1097.85 1237.57 L1098.35 1240.16 L1098.85 1242.72 L1099.35 1245.25 L1099.85 1247.75 L1100.35 1250.21 L1100.85 1252.63 L1101.35 1255.02 L1101.85 1257.36 L1102.35 1259.66 L1102.85 1261.91 L1103.35 1264.11 L1103.85 1266.26 L1104.35 1268.36 L1104.85 1270.40 L1105.35 1272.40 L1105.85 1274.33 L1106.35 1276.21 L1106.85 1278.04 L1107.35 1279.80 L1107.85 1281.51 L1108.35 1283.17 L1108.85 1284.76 L1109.35 1286.30 L1109.85 1287.78 L1110.35 1289.20 L1110.85 1290.57 L1111.35 1291.89 L1111.85 1293.15 L1112.35 1294.35 L1112.85 1295.51 L1113.35 1296.61 L1113.85 1297.66 L1114.35 1298.66 L1114.85 1299.61 L1115.35 1300.52 L1115.85 1301.38 L1116.35 1302.20 L1116.85 1302.97 L1117.35 1303.71 L1117.85 1304.40 L1118.35 1305.05 L1118.85 1305.67 L1119.35 1306.25 L1119.85 1306.80 L1120.35 1307.32 L1120.85 1307.80 L1121.35 1308.25 L1121.85 1308.68 L1122.35 1309.08 L1122.85 1309.45 L1123.35 1309.79 L1123.85 1310.12 L1124.35 1310.42 L1124.85 1310.70 L1125.35 1310.96 L1125.85 1311.21 L1126.35 1311.43 L1126.85 1311.64 L1127.35 1311.83 L1127.85 1312.01 L1128.35 1312.18 L1128.85 1312.33 L1129.35 1312.47 L1129.85 1312.60 L1130.35 1312.72 L1130.85 1312.82 L1131.35 1312.92 L1131.85 1313.02 L1132.35 1313.10 L1132.85 1313.18 L1133.35 1313.25 L1133.85 1313.31 L1134.35 1313.37 L1134.85 1313.42 L1135.35 1313.47 L1135.85 1313.51 L1136.35 1313.55 L1136.85 1313.59 L1137.35 1313.62 L1137.85 1313.65 L1138.35 1313.68 L1138.85 1313.70 L1139.35 1313.72 L1139.85 1313.74 L1140.35 1313.76 L1140.85 1313.77 L1141.35 1313.79 L1141.85 1313.80 L1142.35 1313.81 L1142.85 1313.82 L1143.35 1313.83 L1143.85 1313.84 L1144.35 1313.85 L1144.85 1313.85 L1145.35 1313.86 L1145.85 1313.86 L1146.35 1313.87 L1146.85 1313.87 L1147.35 1313.88 L1147.85 1313.88 L1148.35 1313.88 L1148.85 1313.88 L1149.35 1313.89 L1149.85 1313.89 L1150.35 1313.89 L1150.85 1313.89 L1151.35 1313.89 L1151.85 1313.89 L1152.35 1313.89 L1152.85 1313.89 L1153.35 1313.90 L1153.85 1313.90 L1154.35 1313.90 L1154.85 1313.90 L1155.35 1313.90 L1155.85 1313.90 L1156.35 1313.90 L1156.85 1313.90 L1157.35 1313.90 L1157.85 1313.90 L1158.35 1313.90 L1158.85 1313.90 L1159.35 1313.90 L1159.85 1313.90 L1160.35 1313.90 L1160.85 1313.90 L1161.35 1313.90 L1161.85 1313.90 L1162.35 1313.90 L1162.85 1313.90 L1163.35 1313.90 L1163.85 1313.90 L1164.35 1313.90 L1164.85 1313.90 L1165.35 1313.90 L1165.85 1313.90 L1166.35 1313.90 L1166.85 1313.90 L1167.35 1313.90 L1167.85 1313.90 L1168.35 1313.90 L1168.85 1313.90 L1169.35 1313.90 L1169.85 1313.90 L1170.35 1313.90 L1170.85 1313.90 L1171.35 1313.90 L1171.85 1313.90 L1172.35 1313.90 L1172.85 1313.90 L1173.35 1313.90 L1173.85 1313.90 L1174.35 1313.90 L1174.85 1313.90 L1175.35 1313.90 L1175.85 1313.90 L1176.35 1313.90 L1176.85 1313.90 L1177.35 1313.90 L1177.85 1313.90 L1178.35 1313.90 L1178.85 1313.90 L1179.35 1313.90 L1179.85 1313.90 L1180.35 1313.90 L1180.85 1313.90 L1181.35 1313.90 L1181.85 1313.90 L1182.35 1313.90 L1182.85 1313.90 L1183.35 1313.90 L1183.85 1313.90 L1184.35 1313.90 L1184.85 1313.90 L1185.35 1313.90 L1185.85 1313.90 L1186.35 1313.90 L1186.85 1313.90 L1187.35 1313.90 L1187.85 1313.90 L1188.35 1313.90 L1188.85 1313.90 L1189.35 1313.90 L1189.85 1313.90 L1190.35 1313.90 L1190.85 1313.90 L1191.35 1313.90 L1191.85 1313.90 L1192.35 1313.90 L1192.85 1313.90 L1193.35 1313.90 L1193.85 1313.90 L1199.79 1313.90 L1200.29 1313.90 L1200.79 1313.90 L1201.29 1313.90 L1201.79 1313.90 L1202.29 1313.90 L1202.79 1313.90 L1203.29 1313.90 L1203.79 1313.90 L1204.29 1313.90 L1204.79 1313.90 L1205.29 1313.90 L1205.79 1313.90 L1206.29 1313.90 L1206.79 1313.90 L1207.29 1313.90 L1207.79 1313.90 L1208.29 1313.90 L1208.79 1313.90 L1209.29 1313.90 L1209.79 1313.90 L1210.29 1313.90 L1210.79 1313.90 L1211.29 1313.90 L1211.79 1313.90 L1212.29 1313.90 L1212.79 1313.89 L1213.29 1313.89 L1213.79 1313.89 L1214.29 1313.89 L1214.79 1313.89 L1215.29 1313.89 L1215.79 1313.88 L1216.29 1313.88 L1216.79 1313.88 L1217.29 1313.87 L1217.79 1313.87 L1218.29 1313.86 L1218.79 1313.85 L1219.29 1313.85 L1219.79 1313.84 L1220.29 1313.82 L1220.79 1313.81 L1221.29 1313.79 L1221.79 1313.78 L1222.29 1313.76 L1222.79 1313.73 L1223.29 1313.70 L1223.79 1313.67 L1224.29 1313.63 L1224.79 1313.59 L1225.29 1313.54 L1225.79 1313.49 L1226.29 1313.42 L1226.79 1313.35 L1227.29 1313.27 L1227.79 1313.18 L1228.29 1313.07 L1228.79 1312.96 L1229.29 1312.82 L1229.79 1312.68 L1230.29 1312.51 L1230.79 1312.33 L1231.29 1312.12 L1231.79 1311.89 L1232.29 1311.64 L1232.79 1311.36 L1233.29 1311.05 L1233.79 1310.71 L1234.29 1310.34 L1234.79 1309.93 L1235.29 1309.49 L1235.79 1309.00 L1236.29 1308.47 L1236.79 1307.90 L1237.29 1307.27 L1237.79 1306.60 L1238.29 1305.88 L1238.79 1305.10 L1239.29 1304.27 L1239.79 1303.38 L1240.29 1302.44 L1240.79 1301.43 L1241.29 1300.37 L1241.79 1299.24 L1242.29 1298.05 L1242.79 1296.80 L1243.29 1295.49 L1243.79 1294.13 L1244.29 1292.70 L1244.79 1291.23 L1245.29 1289.70 L1245.79 1288.12 L1246.29 1286.50 L1246.79 1284.84 L1247.29 1283.14 L1247.79 1281.42 L1248.29 1279.67 L1248.79 1277.92 L1249.29 1276.15 L1249.79 1274.38 L1250.29 1272.63 L1250.79 1270.89 L1251.29 1269.18 L1251.79 1267.50 L1252.29 1265.88 L1252.79 1264.31 L1253.29 1262.80 L1253.79 1261.38 L1254.29 1260.04 L1254.79 1258.80 L1255.29 1257.67 L1255.79 1256.65 L1256.29 1255.77 L1256.79 1255.01 L1257.29 1254.40 L1257.79 1253.95 L1258.29 1253.66 L1258.79 1253.55 L1259.29 1253.61 L1259.79 1253.78 L1260.29 1254.08 L1260.79 1254.51 L1261.29 1255.06 L1261.79 1255.73 L1262.29 1256.52 L1262.79 1257.42 L1263.29 1258.44 L1263.79 1259.55 L1264.29 1260.77 L1264.79 1262.07 L1265.29 1263.45 L1265.79 1264.91 L1266.29 1266.43 L1266.79 1268.01 L1267.29 1269.64 L1267.79 1271.31 L1268.29 1273.01 L1268.79 1274.73 L1269.29 1276.47 L1269.79 1278.21 L1270.29 1279.95 L1270.79 1281.68 L1271.29 1283.39 L1271.79 1285.08 L1272.29 1286.74 L1272.79 1288.36 L1273.29 1289.94 L1273.79 1291.48 L1274.29 1292.97 L1274.79 1294.40 L1275.29 1295.78 L1275.79 1297.10 L1276.29 1298.36 L1276.79 1299.56 L1277.29 1300.70 L1277.79 1301.78 L1278.29 1302.79 L1278.79 1303.75 L1279.29 1304.64 L1279.79 1305.48 L1280.29 1306.26 L1280.79 1306.98 L1281.29 1307.65 L1281.79 1308.27 L1282.29 1308.84 L1282.79 1309.36 L1283.29 1309.84 L1283.79 1310.27 L1284.29 1310.67 L1284.79 1311.03 L1285.29 1311.36 L1285.79 1311.65 L1286.29 1311.92 L1286.79 1312.16 L1287.29 1312.37 L1287.79 1312.56 L1288.29 1312.73 L1288.79 1312.88 L1289.29 1313.01 L1289.79 1313.13 L1290.29 1313.24 L1290.79 1313.33 L1291.29 1313.41 L1291.79 1313.48 L1292.29 1313.54 L1292.79 1313.59 L1293.29 1313.64 L1293.79 1313.67 L1294.29 1313.71 L1294.79 1313.74 L1295.29 1313.76 L1295.79 1313.79 L1296.29 1313.80 L1296.79 1313.82 L1297.29 1313.83 L1297.79 1313.84 L1298.29 1313.85 L1298.79 1313.86 L1299.29 1313.87 L1299.79 1313.87 L1300.29 1313.88 L1300.79 1313.88 L1301.29 1313.89 L1301.79 1313.89 L1302.29 1313.89 L1302.79 1313.89 L1303.29 1313.89 L1303.79 1313.89 L1304.29 1313.90 L1304.79 1313.90 L1305.29 1313.90 L1305.79 1313.90 L1306.29 1313.90 L1306.79 1313.90 L1307.29 1313.90 L1307.79 1313.90 L1308.29 1313.90 L1308.79 1313.90 L1309.29 1313.90 L1309.79 1313.90 L1310.29 1313.90 L1310.79 1313.90 L1311.29 1313.90 L1311.79 1313.90 L1312.29 1313.90 L1312.79 1313.90 L1313.29 1313.90 L1313.79 1313.90 L1314.29 1313.90 L1314.79 1313.90 L1315.29 1313.90 L1315.79 1313.90 L1316.29 1313.90 L1316.79 1313.90 L1317.29 1313.90 L1317.79 1313.90 L1318.29 1313.90 L1318.79 1313.90 L1319.29 1313.90 L1319.79 1313.90 L1320.29 1313.90 L1320.79 1313.90 L1321.29 1313.90 L1321.79 1313.90 L1322.29 1313.90 L1322.79 1313.90 L1892.97 1313.90 L1893.47 1313.90 L1893.97 1313.90 L1894.47 1313.90 L1894.97 1313.90 L1895.47 1313.90 L1895.97 1313.90 L1896.47 1313.90 L1896.97 1313.90 L1897.47 1313.90 L1897.97 1313.90 L1898.47 1313.90 L1898.97 1313.90 L1899.47 1313.90 L1899.97 1313.90 L1900.47 1313.90 L1900.97 1313.90 L1901.47 1313.90 L1901.97 1313.90 L1902.47 1313.90 L1902.97 1313.90 L1903.47 1313.90 L1903.97 1313.90 L1904.47 1313.90 L1904.97 1313.90 L1905.47 1313.90 L1905.97 1313.90 L1906.47 1313.90 L1906.97 1313.90 L1907.47 1313.90 L1907.97 1313.90 L1908.47 1313.90 L1908.97 1313.90 L1909.47 1313.90 L1909.97 1313.90 L1910.47 1313.90 L1910.97 1313.90 L1911.47 1313.90 L1911.97 1313.90 L1912.47 1313.90 L1912.97 1313.90 L1913.47 1313.90 L1913.97 1313.90 L1914.47 1313.90 L1914.97 1313.90 L1915.47 1313.90 L1915.97 1313.90 L1916.47 1313.90 L1916.97 1313.90 L1917.47 1313.90 L1917.97 1313.90 L1918.47 1313.90 L1918.97 1313.90 L1919.47 1313.90 L1919.97 1313.90 L1920.47 1313.90 L1920.97 1313.90 L1921.47 1313.90 L1921.97 1313.90 L1922.47 1313.90 L1922.97 1313.90 L1923.47 1313.90 L1923.97 1313.90 L1924.47 1313.89 L1924.97 1313.89 L1925.47 1313.89 L1925.97 1313.89 L1926.47 1313.89 L1926.97 1313.89 L1927.47 1313.89 L1927.97 1313.89 L1928.47 1313.89 L1928.97 1313.89 L1929.47 1313.88 L1929.97 1313.88 L1930.47 1313.88 L1930.97 1313.88 L1931.47 1313.87 L1931.97 1313.87 L1932.47 1313.87 L1932.97 1313.87 L1933.47 1313.86 L1933.97 1313.86 L1934.47 1313.85 L1934.97 1313.85 L1935.47 1313.84 L1935.97 1313.84 L1936.47 1313.83 L1936.97 1313.82 L1937.47 1313.81 L1937.97 1313.81 L1938.47 1313.80 L1938.97 1313.79 L1939.47 1313.77 L1939.97 1313.76 L1940.47 1313.75 L1940.97 1313.73 L1941.47 1313.72 L1941.97 1313.70 L1942.47 1313.68 L1942.97 1313.66 L1943.47 1313.64 L1943.97 1313.61 L1944.47 1313.59 L1944.97 1313.56 L1945.47 1313.52 L1945.97 1313.49 L1946.47 1313.45 L1946.97 1313.41 L1947.47 1313.37 L1947.97 1313.32 L1948.47 1313.27 L1948.97 1313.22 L1949.47 1313.16 L1949.97 1313.10 L1950.47 1313.03 L1950.97 1312.96 L1951.47 1312.88 L1951.97 1312.80 L1952.47 1312.71 L1952.97 1312.61 L1953.47 1312.51 L1953.97 1312.40 L1954.47 1312.28 L1954.97 1312.16 L1955.47 1312.02 L1955.97 1311.88 L1956.47 1311.73 L1956.97 1311.57 L1957.47 1311.39 L1957.97 1311.21 L1958.47 1311.02 L1958.97 1310.81 L1959.47 1310.59 L1959.97 1310.36 L1960.47 1310.11 L1960.97 1309.85 L1961.47 1309.57 L1961.97 1309.28 L1962.47 1308.97 L1962.97 1308.65 L1963.47 1308.30 L1963.97 1307.94 L1964.47 1307.56 L1964.97 1307.16 L1965.47 1306.74 L1965.97 1306.30 L1966.47 1305.84 L1966.97 1305.35 L1967.47 1304.84 L1967.97 1304.31 L1968.47 1303.75 L1968.97 1303.17 L1969.47 1302.56 L1969.97 1301.92 L1970.47 1301.26 L1970.97 1300.57 L1971.47 1299.85 L1971.97 1299.11 L1972.47 1298.33 L1972.97 1297.53 L1973.47 1296.69 L1973.97 1295.82 L1974.47 1294.93 L1974.97 1294.00 L1975.47 1293.04 L1975.97 1292.05 L1976.47 1291.02 L1976.97 1289.97 L1977.47 1288.88 L1977.97 1287.76 L1978.47 1286.61 L1978.97 1285.42 L1979.47 1284.21 L1979.97 1282.96 L1980.47 1281.69 L1980.97 1280.38 L1981.47 1279.05 L1981.97 1277.68 L1982.47 1276.29 L1982.97 1274.87 L1983.47 1273.42 L1983.97 1271.95 L1984.47 1270.45 L1984.97 1268.93 L1985.47 1267.38 L1985.97 1265.82 L1986.47 1264.23 L1986.97 1262.63 L1987.47 1261.01 L1987.97 1259.38 L1988.47 1257.73 L1988.97 1256.07 L1989.47 1254.40 L1989.97 1252.73 L1990.47 1251.05 L1990.97 1249.37 L1991.47 1247.68 L1991.97 1246.00 L1992.47 1244.32 L1992.97 1242.64 L1993.47 1240.97 L1993.97 1239.32 L1994.47 1237.67 L1994.97 1236.04 L1995.47 1234.43 L1995.97 1232.84 L1996.47 1231.28 L1996.97 1229.73 L1997.47 1228.22 L1997.97 1226.73 L1998.47 1225.28 L1998.97 1223.86 L1999.47 1222.48 L1999.97 1221.14 L2000.47 1219.85 L2000.97 1218.59 L2001.47 1217.39 L2001.97 1216.23 L2002.47 1215.12 L2002.97 1214.07 L2003.47 1213.07 L2003.97 1212.12 L2004.47 1211.24 L2004.97 1210.41 L2005.47 1209.65 L2005.97 1208.94 L2006.47 1208.30 L2006.97 1207.73 L2007.47 1207.22 L2007.97 1206.78 L2008.47 1206.41 L2008.97 1206.10 L2009.47 1205.86 L2009.97 1205.69 L2010.47 1205.59 L2010.97 1205.55 L2011.47 1205.60 L2011.97 1205.74 L2012.47 1205.97 L2012.97 1206.29 L2013.47 1206.69 L2013.97 1207.17 L2014.47 1207.74 L2014.97 1208.37 L2015.47 1209.09 L2015.97 1209.88 L2016.47 1210.73 L2016.97 1211.66 L2017.47 1212.65 L2017.97 1213.71 L2018.47 1214.82 L2018.97 1215.99 L2019.47 1217.22 L2019.97 1218.51 L2020.47 1219.84 L2020.97 1221.22 L2021.47 1222.64 L2021.97 1224.11 L2022.47 1225.61 L2022.97 1227.15 L2023.47 1228.72 L2023.97 1230.32 L2024.47 1231.95 L2024.97 1233.60 L2025.47 1235.28 L2025.97 1236.97 L2026.47 1238.68 L2026.97 1240.39 L2027.47 1242.12 L2027.97 1243.86 L2028.47 1245.60 L2028.97 1247.35 L2029.47 1249.09 L2029.97 1250.83 L2030.47 1252.56 L2030.97 1254.29 L2031.47 1256.01 L2031.97 1257.72 L2032.47 1259.41 L2032.97 1261.09 L2033.47 1262.75 L2033.97 1264.39 L2034.47 1266.01 L2034.97 1267.60 L2035.47 1269.18 L2035.97 1270.73 L2036.47 1272.25 L2036.97 1273.75 L2037.47 1275.22 L2037.97 1276.66 L2038.47 1278.07 L2038.97 1279.45 L2039.47 1280.79 L2039.97 1282.11 L2040.47 1283.39 L2040.97 1284.65 L2041.47 1285.86 L2041.97 1287.05 L2042.47 1288.20 L2042.97 1289.32 L2043.47 1290.41 L2043.97 1291.46 L2044.47 1292.48 L2044.97 1293.46 L2045.47 1294.42 L2045.97 1295.34 L2046.47 1296.23 L2046.97 1297.08 L2047.47 1297.91 L2047.97 1298.70 L2048.47 1299.47 L2048.97 1300.21 L2049.47 1300.91 L2049.97 1301.59 L2050.47 1302.24 L2050.97 1302.86 L2051.47 1303.46 L2051.97 1304.03 L2052.47 1304.57 L2052.97 1305.10 L2053.47 1305.59 L2053.97 1306.07 L2054.47 1306.52 L2054.97 1306.95 L2055.47 1307.36 L2055.97 1307.75 L2056.47 1308.12 L2056.97 1308.47 L2057.47 1308.80 L2057.97 1309.12 L2058.47 1309.41 L2058.97 1309.70 L2059.47 1309.96 L2059.97 1310.22 L2060.47 1310.46 L2060.97 1310.68 L2061.47 1310.89 L2061.97 1311.09 L2062.47 1311.28 L2062.97 1311.46 L2063.47 1311.63 L2063.97 1311.78 L2064.47 1311.93 L2064.97 1312.07 L2065.47 1312.20 L2065.97 1312.32 L2066.47 1312.43 L2066.97 1312.54 L2067.47 1312.64 L2067.97 1312.73 L2068.47 1312.82 L2068.97 1312.90 L2069.47 1312.98 L2069.97 1313.05 L2070.47 1313.11 L2070.97 1313.17 L2071.47 1313.23 L2071.97 1313.28 L2072.47 1313.33 L2072.97 1313.38 L2073.47 1313.42 L2073.97 1313.46 L2074.47 1313.49 L2074.97 1313.53 L2075.47 1313.56 L2075.97 1313.58 L2076.47 1313.61 L2076.97 1313.64 L2077.47 1313.66 L2077.97 1313.68 L2078.47 1313.70 L2078.97 1313.72 L2079.47 1313.73 L2079.97 1313.75 L2080.47 1313.76 L2080.97 1313.77 L2081.47 1313.78 L2081.97 1313.79 L2082.47 1313.80 L2082.97 1313.81 L2083.47 1313.82 L2083.97 1313.83 L2084.47 1313.83 L2084.97 1313.84 L2085.47 1313.85 L2085.97 1313.85 L2086.47 1313.86 L2086.97 1313.86 L2087.47 1313.86 L2087.97 1313.87 L2088.47 1313.87 L2088.97 1313.87 L2089.47 1313.88 L2089.97 1313.88 L2090.47 1313.88 L2090.97 1313.88 L2091.47 1313.88 L2091.97 1313.89 L2092.47 1313.89 L2092.97 1313.89 L2093.47 1313.89 L2093.97 1313.89 L2094.47 1313.89 L2094.97 1313.89 L2095.47 1313.89 L2095.97 1313.89 L2096.47 1313.89 L2096.97 1313.90 L2097.47 1313.90 L2097.97 1313.90 L2098.47 1313.90 L2098.97 1313.90 L2099.47 1313.90 L2099.97 1313.90 L2100.47 1313.90 L2100.97 1313.90 L2101.47 1313.90 L2101.97 1313.90 L2102.47 1313.90 L2102.97 1313.90 L2103.47 1313.90 L2103.97 1313.90 L2104.47 1313.90 L2104.97 1313.90 L2105.47 1313.90 L2105.97 1313.90 L2106.47 1313.90 L2106.97 1313.90 L2107.47 1313.90 L2107.97 1313.90 L2108.47 1313.90 L2108.97 1313.90 L2109.47 1313.90 L2109.97 1313.90 L2110.47 1313.90 L2110.97 1313.90 L2111.47 1313.90 L2111.97 1313.90 L2112.47 1313.90 L2112.97 1313.90 L2113.47 1313.90 L2113.97 1313.90 L2114.47 1313.90 L2114.97 1313.90 L2115.47 1313.90 L2115.97 1313.90 L2116.47 1313.90 L2116.97 1313.90 L2117.47 1313.90 L2117.97 1313.90 L2118.47 1313.90 L2118.97 1313.90 L2119.47 1313.90 L2119.97 1313.90 L2270.30 1313.90 L2290.3 1313.90" stroke="#ff0000" stroke-width="11.4"/>
<path d="M182.90 1132.30 L937.23 1132.30 L937.73 1132.30 L938.23 1132.30 L938.73 1132.30 L939.23 1132.30 L939.73 1132.30 L940.23 1132.30 L940.73 1132.30 L941.23 1132.30 L941.73 1132.30 L942.23 1132.30 L942.73 1132.30 L943.23 1132.30 L943.73 1132.30 L944.23 1132.30 L944.73 1132.30 L945.23 1132.30 L945.73 1132.30 L946.23 1132.30 L946.73 1132.30 L947.23 1132.30 L947.73 1132.30 L948.23 1132.30 L948.73 1132.30 L949.23 1132.30 L949.73 1132.30 L950.23 1132.30 L950.73 1132.30 L951.23 1132.30 L951.73 1132.30 L952.23 1132.30 L952.73 1132.30 L953.23 1132.30 L953.73 1132.30 L954.23 1132.30 L954.73 1132.30 L955.23 1132.30 L955.73 1132.30 L956.23 1132.30 L956.73 1132.30 L957.23 1132.30 L957.73 1132.30 L958.23 1132.30 L958.73 1132.30 L959.23 1132.30 L959.73 1132.30 L960.23 1132.30 L960.73 1132.30 L961.23 1132.30 L961.73 1132.30 L962.23 1132.30 L962.73 1132.30 L963.23 1132.30 L963.73 1132.30 L964.23 1132.30 L964.73 1132.30 L965.23 1132.30 L965.73 1132.30 L966.23 1132.30 L966.73 1132.30 L967.23 1132.30 L967.73 1132.30 L968.23 1132.30 L968.73 1132.30 L969.23 1132.30 L969.73 1132.30 L970.23 1132.30 L970.73 1132.30 L971.23 1132.30 L971.73 1132.30 L972.23 1132.30 L972.73 1132.30 L973.23 1132.30 L973.73 1132.30 L974.23 1132.30 L974.73 1132.30 L975.23 1132.30 L975.73 1132.30 L976.23 1132.30 L976.73 1132.30 L977.23 1132.30 L977.73 1132.30 L978.23 1132.30 L978.73 1132.30 L979.23 1132.30 L979.73 1132.30 L980.23 1132.30 L980.73 1132.30 L981.23 1132.29 L981.73 1132.29 L982.23 1132.29 L982.73 1132.29 L983.23 1132.29 L983.73 1132.29 L984.23 1132.29 L984.73 1132.29 L985.23 1132.29 L985.73 1132.28 L986.23 1132.28 L986.73 1132.28 L987.23 1132.28 L987.73 1132.27 L988.23 1132.27 L988.73 1132.27 L989.23 1132.27 L989.73 1132.26 L990.23 1132.26 L990.73 1132.25 L991.23 1132.25 L991.73 1132.24 L992.23 1132.23 L992.73 1132.23 L993.23 1132.22 L993.73 1132.21 L994.23 1132.20 L994.73 1132.19 L995.23 1132.18 L995.73 1132.17 L996.23 1132.15 L996.73 1132.14 L997.23 1132.12 L997.73 1132.10 L998.23 1132.08 L998.73 1132.06 L999.23 1132.04 L999.73 1132.01 L1000.23 1131.98 L1000.73 1131.95 L1001.23 1131.92 L1001.73 1131.88 L1002.23 1131.84 L1002.73 1131.80 L1003.23 1131.75 L1003.73 1131.70 L1004.23 1131.65 L1004.73 1131.59 L1005.23 1131.52 L1005.73 1131.45 L1006.23 1131.38 L1006.73 1131.30 L1007.23 1131.21 L1007.73 1131.12 L1008.23 1131.01 L1008.73 1130.91 L1009.23 1130.79 L1009.73 1130.66 L1010.23 1130.53 L1010.73 1130.38 L1011.23 1130.23 L1011.73 1130.06 L1012.23 1129.88 L1012.73 1129.69 L1013.23 1129.49 L1013.73 1129.27 L1014.23 1129.04 L1014.73 1128.80 L1015.23 1128.53 L1015.73 1128.25 L1016.23 1127.96 L1016.73 1127.64 L1017.23 1127.30 L1017.73 1126.95 L1018.23 1126.57 L1018.73 1126.17 L1019.23 1125.74 L1019.73 1125.30 L1020.23 1124.82 L1020.73 1124.32 L1021.23 1123.79 L1021.73 1123.23 L1022.23 1122.65 L1022.73 1122.03 L1023.23 1121.38 L1023.73 1120.69 L1024.23 1119.97 L1024.73 1119.21 L1025.23 1118.42 L1025.73 1117.59 L1026.23 1116.72 L1026.73 1115.81 L1027.23 1114.86 L1027.73 1113.86 L1028.23 1112.82 L1028.73 1111.73 L1029.23 1110.60 L1029.73 1109.43 L1030.23 1108.20 L1030.73 1106.92 L1031.23 1105.60 L1031.73 1104.22 L1032.23 1102.79 L1032.73 1101.31 L1033.23 1099.78 L1033.73 1098.19 L1034.23 1096.55 L1034.73 1094.85 L1035.23 1093.10 L1035.73 1091.29 L1036.23 1089.42 L1036.73 1087.50 L1037.23 1085.53 L1037.73 1083.49 L1038.23 1081.40 L1038.73 1079.26 L1039.23 1077.06 L1039.73 1074.80 L1040.23 1072.49 L1040.73 1070.13 L1041.23 1067.72 L1041.73 1065.25 L1042.23 1062.73 L1042.73 1060.16 L1043.23 1057.54 L1043.73 1054.88 L1044.23 1052.17 L1044.73 1049.42 L1045.23 1046.63 L1045.73 1043.79 L1046.23 1040.92 L1046.73 1038.01 L1047.23 1035.07 L1047.73 1032.10 L1048.23 1029.10 L1048.73 1026.08 L1049.23 1023.03 L1049.73 1019.96 L1050.23 1016.88 L1050.73 1013.78 L1051.23 1010.67 L1051.73 1007.55 L1052.23 1004.43 L1052.73 1001.31 L1053.23 998.19 L1053.73 995.08 L1054.23 991.97 L1054.73 988.88 L1055.23 985.81 L1055.73 982.76 L1056.23 979.73 L1056.73 976.72 L1057.23 973.75 L1057.73 970.82 L1058.23 967.92 L1058.73 965.06 L1059.23 962.25 L1059.73 959.49 L1060.23 956.78 L1060.73 954.13 L1061.23 951.54 L1061.73 949.01 L1062.23 946.54 L1062.73 944.14 L1063.23 941.81 L1063.73 939.56 L1064.23 937.38 L1064.73 935.28 L1065.23 933.26 L1065.73 931.33 L1066.23 929.48 L1066.73 927.71 L1067.23 926.04 L1067.73 924.45 L1068.23 922.96 L1068.73 921.56 L1069.23 920.25 L1069.73 919.03 L1070.23 917.90 L1070.73 916.87 L1071.23 915.93 L1071.73 915.09 L1072.23 914.33 L1072.73 913.66 L1073.23 913.08 L1073.73 912.58 L1074.23 912.15 L1074.73 912.11 L1075.23 912.48 L1075.73 912.90 L1076.23 913.38 L1076.73 913.92 L1077.23 914.53 L1077.73 915.21 L1078.23 915.96 L1078.73 916.79 L1079.23 917.70 L1079.73 918.69 L1080.23 919.77 L1080.73 920.93 L1081.23 922.17 L1081.73 923.50 L1082.23 924.92 L1082.73 926.42 L1083.23 928.01 L1083.73 929.68 L1084.23 931.44 L1084.73 933.29 L1085.23 935.22 L1085.73 937.22 L1086.23 939.31 L1086.73 941.48 L1087.23 943.73 L1087.73 946.05 L1088.23 948.44 L1088.73 950.91 L1089.23 953.44 L1089.73 956.04 L1090.23 958.69 L1090.73 961.41 L1091.23 964.19 L1091.73 967.02 L1092.23 969.89 L1092.73 972.82 L1093.23 975.78 L1093.73 978.79 L1094.23 981.83 L1094.73 984.90 L1095.23 988.00 L1095.73 991.13 L1096.23 994.28 L1096.73 997.44 L1097.23 1000.61 L1097.73 1003.80 L1098.23 1006.99 L1098.73 1010.18 L1099.23 1013.37 L1099.73 1016.55 L1100.23 1019.73 L1100.73 1022.89 L1101.23 1026.04 L1101.73 1029.16 L1102.23 1032.26 L1102.73 1035.34 L1103.23 1038.39 L1103.73 1041.41 L1104.23 1044.39 L1104.73 1047.33 L1105.23 1050.24 L1105.73 1053.10 L1106.23 1055.91 L1106.73 1058.68 L1107.23 1061.40 L1107.73 1064.08 L1108.23 1066.69 L1108.73 1069.26 L1109.23 1071.77 L1109.73 1074.22 L1110.23 1076.61 L1110.73 1078.95 L1111.23 1081.23 L1111.73 1083.44 L1112.23 1085.60 L1112.73 1087.70 L1113.23 1089.73 L1113.73 1091.70 L1114.23 1093.61 L1114.73 1095.46 L1115.23 1097.25 L1115.73 1098.98 L1116.23 1100.65 L1116.73 1102.25 L1117.23 1103.80 L1117.73 1105.29 L1118.23 1106.73 L1118.73 1108.10 L1119.23 1109.42 L1119.73 1110.69 L1120.23 1111.90 L1120.73 1113.06 L1121.23 1114.17 L1121.73 1115.23 L1122.23 1116.24 L1122.73 1117.20 L1123.23 1118.12 L1123.73 1118.99 L1124.23 1119.82 L1124.73 1120.61 L1125.23 1121.35 L1125.73 1122.06 L1126.23 1122.73 L1126.73 1123.37 L1127.23 1123.96 L1127.73 1124.53 L1128.23 1125.06 L1128.73 1125.56 L1129.23 1126.04 L1129.73 1126.48 L1130.23 1126.90 L1130.73 1127.29 L1131.23 1127.66 L1131.73 1128.00 L1132.23 1128.33 L1132.73 1128.63 L1133.23 1128.91 L1133.73 1129.17 L1134.23 1129.42 L1134.73 1129.64 L1135.23 1129.86 L1135.73 1130.05 L1136.23 1130.24 L1136.73 1130.41 L1137.23 1130.56 L1137.73 1130.71 L1138.23 1130.84 L1138.73 1130.97 L1139.23 1131.08 L1139.73 1131.19 L1140.23 1131.29 L1140.73 1131.38 L1141.23 1131.46 L1141.73 1131.54 L1142.23 1131.61 L1142.73 1131.67 L1143.23 1131.73 L1143.73 1131.78 L1144.23 1131.83 L1144.73 1131.88 L1145.23 1131.92 L1145.73 1131.95 L1146.23 1131.99 L1146.73 1132.02 L1147.23 1132.05 L1147.73 1132.07 L1148.23 1132.10 L1148.73 1132.12 L1149.23 1132.14 L1149.73 1132.15 L1150.23 1132.17 L1150.73 1132.18 L1151.23 1132.19 L1151.73 1132.21 L1152.23 1132.22 L1152.73 1132.23 L1153.23 1132.23 L1153.73 1132.24 L1154.23 1132.25 L1154.73 1132.25 L1155.23 1132.26 L1155.73 1132.26 L1156.23 1132.27 L1156.73 1132.27 L1157.23 1132.27 L1157.73 1132.28 L1158.23 1132.28 L1158.73 1132.28 L1159.23 1132.28 L1159.73 1132.29 L1160.23 1132.29 L1160.73 1132.29 L1161.23 1132.29 L1161.73 1132.29 L1162.23 1132.29 L1162.73 1132.29 L1163.23 1132.29 L1163.73 1132.30 L1164.23 1132.30 L1164.73 1132.30 L1165.23 1132.30 L1165.73 1132.30 L1166.23 1132.30 L1166.73 1132.30 L1167.23 1132.30 L1167.73 1132.30 L1168.23 1132.30 L1168.73 1132.30 L1169.23 1132.30 L1169.73 1132.30 L1170.23 1132.30 L1170.73 1132.30 L1171.23 1132.30 L1171.73 1132.30 L1172.23 1132.30 L1172.73 1132.30 L1173.23 1132.30 L1173.73 1132.30 L1174.23 1132.30 L1174.73 1132.30 L1175.23 1132.30 L1175.73 1132.30 L1176.23 1132.30 L1176.73 1132.30 L1177.23 1132.30 L1177.73 1132.30 L1178.23 1132.30 L1178.73 1132.30 L1179.23 1132.30 L1179.73 1132.30 L1180.23 1132.30 L1180.73 1132.30 L1181.23 1132.30 L1181.73 1132.30 L1182.23 1132.30 L1182.73 1132.30 L1182.85 1132.30 L1183.23 1132.30 L1183.35 1132.30 L1183.73 1132.30 L1183.85 1132.30 L1184.23 1132.30 L1184.35 1132.30 L1184.73 1132.30 L1184.85 1132.30 L1185.23 1132.30 L1185.35 1132.30 L1185.73 1132.30 L1185.85 1132.30 L1186.23 1132.30 L1186.35 1132.30 L1186.73 1132.30 L1186.85 1132.30 L1187.23 1132.30 L1187.35 1132.30 L1187.73 1132.30 L1187.85 1132.30 L1188.23 1132.30 L1188.35 1132.30 L1188.73 1132.30 L1188.85 1132.30 L1189.23 1132.30 L1189.35 1132.30 L1189.73 1132.30 L1189.85 1132.30 L1190.23 1132.30 L1190.35 1132.30 L1190.73 1132.30 L1190.85 1132.30 L1191.23 1132.30 L1191.35 1132.30 L1191.73 1132.30 L1191.85 1132.30 L1192.23 1132.30 L1192.35 1132.30 L1192.73 1132.30 L1192.85 1132.30 L1193.23 1132.30 L1193.35 1132.30 L1193.73 1132.30 L1193.85 1132.30 L1194.23 1132.30 L1194.35 1132.30 L1194.73 1132.30 L1194.85 1132.30 L1195.23 1132.30 L1195.35 1132.30 L1195.73 1132.30 L1195.85 1132.30 L1196.23 1132.30 L1196.35 1132.30 L1196.73 1132.30 L1196.85 1132.30 L1197.23 1132.30 L1197.35 1132.30 L1197.73 1132.30 L1197.85 1132.30 L1198.23 1132.30 L1198.35 1132.30 L1198.73 1132.30 L1198.85 1132.30 L1199.23 1132.30 L1199.35 1132.30 L1199.73 1132.30 L1199.85 1132.30 L1200.23 1132.30 L1200.35 1132.30 L1200.73 1132.30 L1200.85 1132.30 L1201.23 1132.30 L1201.35 1132.30 L1201.73 1132.30 L1201.85 1132.30 L1202.23 1132.30 L1202.35 1132.30 L1202.73 1132.30 L1202.85 1132.30 L1203.23 1132.30 L1203.35 1132.30 L1203.73 1132.30 L1203.85 1132.30 L1204.23 1132.30 L1204.35 1132.30 L1204.73 1132.30 L1204.85 1132.30 L1205.23 1132.30 L1205.35 1132.30 L1205.73 1132.30 L1205.85 1132.30 L1206.23 1132.30 L1206.35 1132.30 L1206.73 1132.30 L1206.85 1132.30 L1207.23 1132.30 L1207.35 1132.30 L1207.73 1132.30 L1207.85 1132.30 L1208.23 1132.30 L1208.35 1132.30 L1208.73 1132.30 L1208.85 1132.30 L1209.23 1132.30 L1209.35 1132.30 L1209.73 1132.30 L1209.85 1132.30 L1210.23 1132.30 L1210.35 1132.30 L1210.73 1132.29 L1210.85 1132.29 L1211.23 1132.29 L1211.35 1132.29 L1211.73 1132.29 L1211.85 1132.29 L1212.23 1132.29 L1212.35 1132.29 L1212.73 1132.29 L1212.85 1132.29 L1213.23 1132.28 L1213.35 1132.28 L1213.73 1132.28 L1213.85 1132.28 L1214.23 1132.27 L1214.35 1132.27 L1214.73 1132.27 L1214.85 1132.26 L1215.23 1132.26 L1215.35 1132.26 L1215.73 1132.25 L1215.85 1132.24 L1216.23 1132.23 L1216.35 1132.23 L1216.73 1132.22 L1216.85 1132.22 L1217.23 1132.20 L1217.35 1132.20 L1217.73 1132.18 L1217.85 1132.17 L1218.35 1132.15 L1218.85 1132.11 L1219.35 1132.07 L1219.85 1132.03 L1220.35 1131.97 L1220.85 1131.91 L1221.35 1131.83 L1221.85 1131.74 L1222.35 1131.64 L1222.85 1131.52 L1223.35 1131.38 L1223.85 1131.22 L1224.35 1131.04 L1224.85 1130.83 L1225.35 1130.59 L1225.85 1130.32 L1226.35 1130.01 L1226.85 1129.67 L1227.35 1129.28 L1227.85 1128.84 L1228.35 1128.36 L1228.85 1127.82 L1229.35 1127.23 L1229.85 1126.57 L1230.35 1125.86 L1230.85 1125.07 L1231.35 1124.21 L1231.85 1123.27 L1232.35 1122.26 L1232.85 1121.17 L1233.35 1120.00 L1233.85 1118.74 L1234.35 1117.40 L1234.85 1115.97 L1235.35 1114.46 L1235.85 1112.87 L1236.35 1111.19 L1236.85 1109.44 L1237.35 1107.61 L1237.85 1105.70 L1238.35 1103.73 L1238.85 1101.70 L1239.35 1099.61 L1239.85 1097.47 L1240.35 1095.30 L1240.85 1093.09 L1241.35 1090.86 L1241.85 1088.61 L1242.35 1086.36 L1242.85 1084.12 L1243.35 1081.89 L1243.85 1079.70 L1244.35 1077.53 L1244.85 1075.42 L1245.35 1073.36 L1245.85 1071.37 L1246.35 1069.46 L1246.85 1067.63 L1247.35 1065.90 L1247.85 1064.26 L1248.35 1062.73 L1248.85 1061.30 L1249.35 1059.99 L1249.85 1058.80 L1250.35 1057.72 L1250.85 1056.75 L1251.35 1055.90 L1251.85 1055.15 L1252.35 1054.50 L1252.85 1054.38 L1253.35 1054.97 L1253.85 1055.65 L1254.35 1056.41 L1254.85 1057.27 L1255.35 1058.24 L1255.85 1059.30 L1256.35 1060.48 L1256.85 1061.76 L1257.35 1063.15 L1257.85 1064.64 L1258.35 1066.23 L1258.85 1067.91 L1259.35 1069.68 L1259.85 1071.54 L1260.35 1073.46 L1260.85 1075.46 L1261.35 1077.51 L1261.85 1079.61 L1262.35 1081.75 L1262.85 1083.92 L1263.35 1086.11 L1263.85 1088.31 L1264.35 1090.51 L1264.85 1092.70 L1265.35 1094.87 L1265.85 1097.02 L1266.35 1099.13 L1266.85 1101.20 L1267.35 1103.22 L1267.85 1105.18 L1268.35 1107.08 L1268.85 1108.91 L1269.35 1110.67 L1269.85 1112.35 L1270.35 1113.96 L1270.85 1115.49 L1271.35 1116.93 L1271.85 1118.29 L1272.35 1119.57 L1272.85 1120.77 L1273.35 1121.88 L1273.85 1122.92 L1274.35 1123.88 L1274.85 1124.76 L1275.35 1125.58 L1275.85 1126.32 L1276.35 1127.00 L1276.85 1127.62 L1277.35 1128.17 L1277.85 1128.68 L1278.35 1129.13 L1278.85 1129.53 L1279.35 1129.89 L1279.85 1130.22 L1280.35 1130.50 L1280.85 1130.75 L1281.35 1130.97 L1281.85 1131.16 L1282.35 1131.33 L1282.85 1131.48 L1283.35 1131.60 L1283.85 1131.71 L1284.35 1131.81 L1284.85 1131.89 L1285.35 1131.95 L1285.85 1132.01 L1286.35 1132.06 L1286.85 1132.10 L1287.35 1132.14 L1287.85 1132.17 L1288.35 1132.19 L1288.85 1132.21 L1289.35 1132.23 L1289.85 1132.24 L1290.35 1132.25 L1290.85 1132.26 L1291.35 1132.27 L1291.85 1132.28 L1292.35 1132.28 L1292.85 1132.29 L1293.35 1132.29 L1293.85 1132.29 L1294.35 1132.29 L1294.85 1132.29 L1295.35 1132.30 L1295.85 1132.30 L1296.35 1132.30 L1296.85 1132.30 L1297.35 1132.30 L1297.85 1132.30 L1298.35 1132.30 L1298.85 1132.30 L1299.35 1132.30 L1299.85 1132.30 L1300.35 1132.30 L1300.85 1132.30 L1301.35 1132.30 L1301.85 1132.30 L1302.35 1132.30 L1302.85 1132.30 L1303.35 1132.30 L1303.85 1132.30 L1304.35 1132.30 L1304.85 1132.30 L1305.35 1132.30 L1305.85 1132.30 L1306.35 1132.30 L1306.85 1132.30 L1307.35 1132.30 L1307.85 1132.30 L1308.35 1132.30 L1308.85 1132.30 L1309.35 1132.30 L1309.85 1132.30 L1310.35 1132.30 L1310.85 1132.30 L1311.35 1132.30 L1311.85 1132.30 L1312.35 1132.30 L1312.85 1132.30 L1313.35 1132.30 L1313.85 1132.30 L1314.35 1132.30 L1314.85 1132.30 L1315.35 1132.30 L1315.85 1132.30 L1316.35 1132.30 L1316.85 1132.30 L1317.35 1132.30 L1317.85 1132.30 L1318.35 1132.30 L1318.85 1132.30 L1319.35 1132.30 L1319.85 1132.30 L1320.35 1132.30 L1320.85 1132.30 L1321.35 1132.30 L1321.85 1132.30 L1322.35 1132.30 L1322.85 1132.30 L1323.35 1132.30 L1323.85 1132.30 L1324.35 1132.30 L1324.85 1132.30 L1325.35 1132.30 L1916.29 1132.30 L1916.79 1132.30 L1917.29 1132.30 L1917.79 1132.30 L1918.29 1132.30 L1918.79 1132.30 L1919.29 1132.30 L1919.79 1132.30 L1920.29 1132.30 L1920.79 1132.30 L1921.29 1132.30 L1921.79 1132.30 L1922.29 1132.30 L1922.79 1132.30 L1923.29 1132.30 L1923.79 1132.30 L1924.29 1132.30 L1924.79 1132.30 L1925.29 1132.30 L1925.79 1132.30 L1926.29 1132.30 L1926.79 1132.30 L1927.29 1132.30 L1927.79 1132.30 L1928.29 1132.30 L1928.79 1132.30 L1929.29 1132.30 L1929.79 1132.30 L1930.29 1132.30 L1930.79 1132.30 L1931.29 1132.30 L1931.79 1132.30 L1932.29 1132.30 L1932.79 1132.30 L1933.29 1132.30 L1933.79 1132.30 L1934.29 1132.30 L1934.79 1132.30 L1935.29 1132.30 L1935.79 1132.30 L1936.29 1132.30 L1936.79 1132.30 L1937.29 1132.30 L1937.79 1132.30 L1938.29 1132.30 L1938.79 1132.30 L1939.29 1132.30 L1939.79 1132.30 L1940.29 1132.30 L1940.79 1132.30 L1941.29 1132.30 L1941.79 1132.30 L1942.29 1132.30 L1942.79 1132.30 L1943.29 1132.30 L1943.79 1132.30 L1944.29 1132.30 L1944.79 1132.30 L1945.29 1132.30 L1945.79 1132.30 L1946.29 1132.30 L1946.79 1132.30 L1947.29 1132.29 L1947.79 1132.29 L1948.29 1132.29 L1948.79 1132.29 L1949.29 1132.29 L1949.79 1132.29 L1950.29 1132.29 L1950.79 1132.29 L1951.29 1132.28 L1951.79 1132.28 L1952.29 1132.28 L1952.79 1132.27 L1953.29 1132.27 L1953.79 1132.26 L1954.29 1132.26 L1954.79 1132.25 L1955.29 1132.25 L1955.79 1132.24 L1956.29 1132.23 L1956.79 1132.22 L1957.29 1132.21 L1957.79 1132.20 L1958.29 1132.18 L1958.79 1132.16 L1959.29 1132.15 L1959.79 1132.13 L1960.29 1132.10 L1960.79 1132.08 L1961.29 1132.05 L1961.79 1132.01 L1962.29 1131.98 L1962.79 1131.94 L1963.29 1131.89 L1963.79 1131.84 L1964.29 1131.79 L1964.79 1131.72 L1965.29 1131.66 L1965.79 1131.58 L1966.29 1131.50 L1966.79 1131.40 L1967.29 1131.30 L1967.79 1131.19 L1968.29 1131.06 L1968.79 1130.93 L1969.29 1130.78 L1969.79 1130.62 L1970.29 1130.44 L1970.79 1130.24 L1971.29 1130.03 L1971.79 1129.80 L1972.29 1129.55 L1972.79 1129.27 L1973.29 1128.98 L1973.79 1128.65 L1974.29 1128.31 L1974.79 1127.93 L1975.29 1127.52 L1975.79 1127.09 L1976.29 1126.61 L1976.79 1126.11 L1977.29 1125.56 L1977.79 1124.98 L1978.29 1124.36 L1978.79 1123.69 L1979.29 1122.98 L1979.79 1122.22 L1980.29 1121.41 L1980.79 1120.55 L1981.29 1119.64 L1981.79 1118.67 L1982.29 1117.64 L1982.79 1116.56 L1983.29 1115.41 L1983.79 1114.20 L1984.29 1112.93 L1984.79 1111.59 L1985.29 1110.18 L1985.79 1108.71 L1986.29 1107.17 L1986.79 1105.55 L1987.29 1103.87 L1987.79 1102.11 L1988.29 1100.28 L1988.79 1098.37 L1989.29 1096.40 L1989.79 1094.35 L1990.29 1092.23 L1990.79 1090.04 L1991.29 1087.77 L1991.79 1085.44 L1992.29 1083.04 L1992.79 1080.58 L1993.29 1078.05 L1993.79 1075.46 L1994.29 1072.82 L1994.79 1070.11 L1995.29 1067.36 L1995.79 1064.56 L1996.29 1061.71 L1996.79 1058.83 L1997.29 1055.91 L1997.79 1052.96 L1998.29 1049.98 L1998.79 1046.98 L1999.29 1043.97 L1999.79 1040.95 L2000.29 1037.93 L2000.79 1034.91 L2001.29 1031.89 L2001.79 1028.90 L2002.29 1025.92 L2002.79 1022.98 L2003.29 1020.06 L2003.79 1017.19 L2004.29 1014.37 L2004.79 1011.60 L2005.29 1008.89 L2005.79 1006.25 L2006.29 1003.68 L2006.79 1001.19 L2007.29 998.79 L2007.79 996.48 L2008.29 994.26 L2008.79 992.14 L2009.29 990.13 L2009.79 988.22 L2010.29 986.43 L2010.79 984.76 L2011.29 983.21 L2011.79 981.78 L2012.29 980.47 L2012.79 979.29 L2013.29 978.24 L2013.79 977.31 L2014.29 976.52 L2014.79 975.84 L2015.29 975.29 L2015.79 974.86 L2016.29 974.78 L2016.79 975.14 L2017.29 975.59 L2017.79 976.13 L2018.29 976.77 L2018.79 977.52 L2019.29 978.39 L2019.79 979.37 L2020.29 980.47 L2020.79 981.70 L2021.29 983.05 L2021.79 984.52 L2022.29 986.11 L2022.79 987.83 L2023.29 989.67 L2023.79 991.62 L2024.29 993.69 L2024.79 995.88 L2025.29 998.17 L2025.79 1000.56 L2026.29 1003.05 L2026.79 1005.64 L2027.29 1008.32 L2027.79 1011.07 L2028.29 1013.90 L2028.79 1016.80 L2029.29 1019.77 L2029.79 1022.78 L2030.29 1025.85 L2030.79 1028.95 L2031.29 1032.09 L2031.79 1035.26 L2032.29 1038.44 L2032.79 1041.63 L2033.29 1044.82 L2033.79 1048.01 L2034.29 1051.19 L2034.79 1054.36 L2035.29 1057.49 L2035.79 1060.60 L2036.29 1063.67 L2036.79 1066.69 L2037.29 1069.67 L2037.79 1072.60 L2038.29 1075.46 L2038.79 1078.26 L2039.29 1081.00 L2039.79 1083.67 L2040.29 1086.26 L2040.79 1088.77 L2041.29 1091.21 L2041.79 1093.57 L2042.29 1095.84 L2042.79 1098.03 L2043.29 1100.13 L2043.79 1102.15 L2044.29 1104.09 L2044.79 1105.94 L2045.29 1107.70 L2045.79 1109.38 L2046.29 1110.98 L2046.79 1112.50 L2047.29 1113.93 L2047.79 1115.29 L2048.29 1116.57 L2048.79 1117.78 L2049.29 1118.92 L2049.79 1119.98 L2050.29 1120.98 L2050.79 1121.92 L2051.29 1122.79 L2051.79 1123.60 L2052.29 1124.36 L2052.79 1125.06 L2053.29 1125.71 L2053.79 1126.31 L2054.29 1126.86 L2054.79 1127.37 L2055.29 1127.85 L2055.79 1128.28 L2056.29 1128.67 L2056.79 1129.04 L2057.29 1129.37 L2057.79 1129.67 L2058.29 1129.94 L2058.79 1130.19 L2059.29 1130.42 L2059.79 1130.62 L2060.29 1130.81 L2060.79 1130.98 L2061.29 1131.13 L2061.79 1131.26 L2062.29 1131.38 L2062.79 1131.49 L2063.29 1131.59 L2063.79 1131.67 L2064.29 1131.75 L2064.79 1131.82 L2065.29 1131.88 L2065.79 1131.93 L2066.29 1131.98 L2066.79 1132.02 L2067.29 1132.06 L2067.79 1132.09 L2068.29 1132.12 L2068.79 1132.14 L2069.29 1132.16 L2069.79 1132.18 L2070.29 1132.20 L2070.79 1132.21 L2071.29 1132.23 L2071.79 1132.24 L2072.29 1132.25 L2072.79 1132.25 L2073.29 1132.26 L2073.79 1132.27 L2074.29 1132.27 L2074.79 1132.28 L2075.29 1132.28 L2075.79 1132.28 L2076.29 1132.29 L2076.79 1132.29 L2077.29 1132.29 L2077.79 1132.29 L2078.29 1132.29 L2078.79 1132.29 L2079.29 1132.30 L2079.79 1132.30 L2080.29 1132.30 L2080.79 1132.30 L2081.29 1132.30 L2081.79 1132.30 L2082.29 1132.30 L2082.79 1132.30 L2083.29 1132.30 L2083.79 1132.30 L2084.29 1132.30 L2084.79 1132.30 L2085.29 1132.30 L2085.79 1132.30 L2086.29 1132.30 L2086.79 1132.30 L2087.29 1132.30 L2087.79 1132.30 L2088.29 1132.30 L2088.79 1132.30 L2089.29 1132.30 L2089.79 1132.30 L2090.29 1132.30 L2090.79 1132.30 L2091.29 1132.30 L2091.79 1132.30 L2092.29 1132.30 L2092.79 1132.30 L2093.29 1132.30 L2093.79 1132.30 L2094.29 1132.30 L2094.79 1132.30 L2095.29 1132.30 L2095.79 1132.30 L2096.29 1132.30 L2096.79 1132.30 L2097.29 1132.30 L2097.79 1132.30 L2098.29 1132.30 L2098.79 1132.30 L2099.29 1132.30 L2099.79 1132.30 L2100.29 1132.30 L2100.79 1132.30 L2101.29 1132.30 L2101.79 1132.30 L2102.29 1132.30 L2102.79 1132.30 L2103.29 1132.30 L2103.79 1132.30 L2104.29 1132.30 L2104.79 1132.30 L2105.29 1132.30 L2105.79 1132.30 L2106.29 1132.30 L2106.79 1132.30 L2107.29 1132.30 L2107.79 1132.30 L2108.29 1132.30 L2108.79 1132.30 L2109.29 1132.30 L2109.79 1132.30 L2110.29 1132.30 L2110.79 1132.30 L2111.29 1132.30 L2111.79 1132.30 L2112.29 1132.30 L2112.79 1132.30 L2113.29 1132.30 L2113.79 1132.30 L2114.29 1132.30 L2114.79 1132.30 L2115.29 1132.30 L2115.79 1132.30 L2116.29 1132.30 L2116.79 1132.30 L2117.29 1132.30 L2270.30 1132.30 L2290.3 1132.30" stroke="#0000ff" stroke-width="11.4"/>
<path d="M182.90 890.30 L956.28 890.30 L956.78 890.30 L957.28 890.30 L957.78 890.30 L958.28 890.30 L958.78 890.30 L959.28 890.30 L959.78 890.30 L960.28 890.30 L960.78 890.30 L961.28 890.30 L961.78 890.30 L962.28 890.30 L962.78 890.30 L963.28 890.30 L963.78 890.30 L964.28 890.30 L964.78 890.30 L965.28 890.30 L965.78 890.30 L966.28 890.30 L966.78 890.30 L967.28 890.30 L967.78 890.30 L968.28 890.30 L968.78 890.30 L969.28 890.30 L969.78 890.30 L970.28 890.30 L970.78 890.30 L971.28 890.30 L971.78 890.30 L972.28 890.30 L972.78 890.30 L973.28 890.30 L973.78 890.30 L974.28 890.30 L974.78 890.30 L975.28 890.30 L975.78 890.30 L976.28 890.30 L976.78 890.30 L977.28 890.30 L977.78 890.30 L978.28 890.30 L978.78 890.30 L979.28 890.30 L979.78 890.30 L980.28 890.30 L980.78 890.30 L981.28 890.30 L981.78 890.30 L982.28 890.30 L982.78 890.30 L983.28 890.30 L983.78 890.30 L984.28 890.30 L984.78 890.30 L985.28 890.30 L985.78 890.30 L986.28 890.30 L986.78 890.30 L987.28 890.30 L987.78 890.30 L988.28 890.30 L988.78 890.30 L989.28 890.30 L989.78 890.30 L990.28 890.30 L990.78 890.30 L991.28 890.30 L991.78 890.30 L992.28 890.30 L992.78 890.30 L993.28 890.30 L993.78 890.30 L994.28 890.30 L994.78 890.30 L995.28 890.29 L995.78 890.29 L996.28 890.29 L996.78 890.29 L997.28 890.29 L997.78 890.29 L998.28 890.29 L998.78 890.29 L999.28 890.28 L999.78 890.28 L1000.28 890.28 L1000.78 890.28 L1001.28 890.28 L1001.78 890.27 L1002.28 890.27 L1002.78 890.26 L1003.28 890.26 L1003.78 890.26 L1004.28 890.25 L1004.78 890.24 L1005.28 890.24 L1005.78 890.23 L1006.28 890.22 L1006.78 890.21 L1007.28 890.20 L1007.78 890.19 L1008.28 890.18 L1008.78 890.16 L1009.28 890.15 L1009.78 890.13 L1010.28 890.11 L1010.78 890.09 L1011.28 890.06 L1011.78 890.04 L1012.28 890.01 L1012.78 889.98 L1013.28 889.94 L1013.78 889.91 L1014.28 889.87 L1014.78 889.82 L1015.28 889.77 L1015.78 889.72 L1016.28 889.66 L1016.78 889.59 L1017.28 889.53 L1017.78 889.45 L1018.28 889.37 L1018.78 889.28 L1019.28 889.18 L1019.78 889.08 L1020.28 888.96 L1020.78 888.84 L1021.28 888.71 L1021.78 888.56 L1022.28 888.41 L1022.78 888.24 L1023.28 888.06 L1023.78 887.87 L1024.28 887.66 L1024.78 887.44 L1025.28 887.20 L1025.78 886.94 L1026.28 886.67 L1026.78 886.37 L1027.28 886.06 L1027.78 885.72 L1028.28 885.37 L1028.78 884.99 L1029.28 884.58 L1029.78 884.15 L1030.28 883.69 L1030.78 883.21 L1031.28 882.69 L1031.78 882.15 L1032.28 881.57 L1032.78 880.96 L1033.28 880.32 L1033.78 879.64 L1034.28 878.92 L1034.78 878.17 L1035.28 877.37 L1035.78 876.54 L1036.28 875.66 L1036.78 874.75 L1037.28 873.78 L1037.78 872.78 L1038.28 871.72 L1038.78 870.62 L1039.28 869.47 L1039.78 868.27 L1040.28 867.03 L1040.78 865.73 L1041.28 864.38 L1041.78 862.98 L1042.28 861.52 L1042.78 860.01 L1043.28 858.45 L1043.78 856.84 L1044.28 855.17 L1044.78 853.45 L1045.28 851.68 L1045.78 849.85 L1046.28 847.98 L1046.78 846.04 L1047.28 844.06 L1047.78 842.03 L1048.28 839.95 L1048.78 837.82 L1049.28 835.64 L1049.78 833.42 L1050.28 831.15 L1050.78 828.84 L1051.28 826.49 L1051.78 824.10 L1052.28 821.68 L1052.78 819.22 L1053.28 816.73 L1053.78 814.22 L1054.28 811.67 L1054.78 809.11 L1055.28 806.52 L1055.78 803.92 L1056.28 801.31 L1056.78 798.68 L1057.28 796.05 L1057.78 793.42 L1058.28 790.78 L1058.78 788.15 L1059.28 785.53 L1059.78 782.92 L1060.28 780.33 L1060.78 777.76 L1061.28 775.21 L1061.78 772.69 L1062.28 770.20 L1062.78 767.75 L1063.28 765.33 L1063.78 762.96 L1064.28 760.64 L1064.78 758.37 L1065.28 756.15 L1065.78 753.99 L1066.28 751.89 L1066.78 749.86 L1067.28 747.89 L1067.78 745.99 L1068.28 744.17 L1068.78 742.42 L1069.28 740.75 L1069.78 739.16 L1070.28 737.66 L1070.78 736.23 L1071.28 734.90 L1071.78 733.65 L1072.28 732.48 L1072.78 731.41 L1073.28 730.42 L1073.78 729.52 L1074.28 728.71 L1074.78 727.98 L1075.28 727.34 L1075.78 726.78 L1076.28 726.61 L1076.78 727.09 L1077.28 727.59 L1077.78 728.13 L1078.28 728.72 L1078.78 729.36 L1079.28 730.06 L1079.78 730.82 L1080.28 731.65 L1080.78 732.54 L1081.28 733.51 L1081.78 734.55 L1082.28 735.66 L1082.78 736.85 L1083.28 738.12 L1083.78 739.47 L1084.28 740.90 L1084.78 742.40 L1085.28 743.99 L1085.78 745.65 L1086.28 747.40 L1086.78 749.22 L1087.28 751.11 L1087.78 753.08 L1088.28 755.12 L1088.78 757.23 L1089.28 759.41 L1089.78 761.66 L1090.28 763.96 L1090.78 766.33 L1091.28 768.75 L1091.78 771.23 L1092.28 773.75 L1092.78 776.32 L1093.28 778.92 L1093.78 781.57 L1094.28 784.24 L1094.78 786.95 L1095.28 789.68 L1095.78 792.42 L1096.28 795.19 L1096.78 797.96 L1097.28 800.73 L1097.78 803.51 L1098.28 806.29 L1098.78 809.06 L1099.28 811.81 L1099.78 814.55 L1100.28 817.27 L1100.78 819.96 L1101.28 822.62 L1101.78 825.26 L1102.28 827.85 L1102.78 830.41 L1103.28 832.93 L1103.78 835.40 L1104.28 837.82 L1104.78 840.19 L1105.28 842.50 L1105.78 844.76 L1106.28 846.97 L1106.78 849.11 L1107.28 851.19 L1107.78 853.21 L1108.28 855.17 L1108.78 857.07 L1109.28 858.89 L1109.78 860.66 L1110.28 862.36 L1110.78 863.99 L1111.28 865.56 L1111.78 867.06 L1112.28 868.50 L1112.78 869.88 L1113.28 871.19 L1113.78 872.44 L1114.28 873.63 L1114.78 874.76 L1115.28 875.83 L1115.78 876.85 L1116.28 877.81 L1116.78 878.72 L1117.28 879.57 L1117.78 880.38 L1118.28 881.13 L1118.78 881.85 L1119.28 882.51 L1119.78 883.13 L1120.28 883.72 L1120.78 884.26 L1121.28 884.77 L1121.78 885.24 L1122.28 885.67 L1122.78 886.08 L1123.28 886.46 L1123.78 886.80 L1124.28 887.12 L1124.78 887.42 L1125.28 887.69 L1125.78 887.94 L1126.28 888.17 L1126.78 888.37 L1127.28 888.57 L1127.78 888.74 L1128.28 888.90 L1128.78 889.04 L1129.28 889.18 L1129.78 889.29 L1130.28 889.40 L1130.78 889.50 L1131.28 889.59 L1131.78 889.67 L1132.28 889.74 L1132.78 889.80 L1133.28 889.86 L1133.78 889.91 L1134.28 889.96 L1134.78 890.00 L1135.28 890.03 L1135.78 890.07 L1136.28 890.10 L1136.78 890.12 L1137.28 890.14 L1137.78 890.16 L1138.28 890.18 L1138.78 890.20 L1139.28 890.21 L1139.78 890.22 L1140.28 890.23 L1140.78 890.24 L1141.28 890.25 L1141.78 890.26 L1142.28 890.26 L1142.78 890.27 L1143.28 890.27 L1143.78 890.28 L1144.28 890.28 L1144.78 890.28 L1145.28 890.29 L1145.78 890.29 L1146.28 890.29 L1146.78 890.29 L1147.28 890.29 L1147.78 890.29 L1148.28 890.29 L1148.78 890.30 L1149.28 890.30 L1149.78 890.30 L1150.28 890.30 L1150.78 890.30 L1151.28 890.30 L1151.78 890.30 L1152.28 890.30 L1152.78 890.30 L1153.28 890.30 L1153.78 890.30 L1154.28 890.30 L1154.78 890.30 L1155.28 890.30 L1155.78 890.30 L1156.28 890.30 L1156.78 890.30 L1157.28 890.30 L1157.78 890.30 L1158.20 890.30 L1158.28 890.30 L1158.70 890.30 L1158.78 890.30 L1159.20 890.30 L1159.28 890.30 L1159.70 890.30 L1159.78 890.30 L1160.20 890.30 L1160.28 890.30 L1160.70 890.30 L1160.78 890.30 L1161.20 890.30 L1161.28 890.30 L1161.70 890.30 L1161.78 890.30 L1162.20 890.30 L1162.28 890.30 L1162.70 890.30 L1162.78 890.30 L1163.20 890.30 L1163.28 890.30 L1163.70 890.30 L1163.78 890.30 L1164.20 890.30 L1164.28 890.30 L1164.70 890.30 L1164.78 890.30 L1165.20 890.30 L1165.28 890.30 L1165.70 890.30 L1165.78 890.30 L1166.20 890.30 L1166.28 890.30 L1166.70 890.30 L1166.78 890.30 L1167.20 890.30 L1167.28 890.30 L1167.70 890.30 L1167.78 890.30 L1168.20 890.30 L1168.28 890.30 L1168.70 890.30 L1168.78 890.30 L1169.20 890.30 L1169.28 890.30 L1169.70 890.30 L1169.78 890.30 L1170.20 890.30 L1170.28 890.30 L1170.70 890.30 L1170.78 890.30 L1171.20 890.30 L1171.28 890.30 L1171.70 890.30 L1171.78 890.30 L1172.20 890.30 L1172.28 890.30 L1172.70 890.30 L1172.78 890.30 L1173.20 890.30 L1173.28 890.30 L1173.70 890.30 L1173.78 890.30 L1174.20 890.30 L1174.28 890.30 L1174.70 890.30 L1174.78 890.30 L1175.20 890.30 L1175.28 890.30 L1175.70 890.30 L1175.78 890.30 L1176.20 890.30 L1176.28 890.30 L1176.70 890.30 L1176.78 890.30 L1177.20 890.30 L1177.28 890.30 L1177.70 890.30 L1177.78 890.30 L1178.20 890.30 L1178.28 890.30 L1178.70 890.30 L1178.78 890.30 L1179.20 890.30 L1179.28 890.30 L1179.70 890.30 L1179.78 890.30 L1180.20 890.30 L1180.28 890.30 L1180.70 890.30 L1180.78 890.30 L1181.20 890.30 L1181.28 890.30 L1181.70 890.30 L1181.78 890.30 L1182.20 890.30 L1182.28 890.30 L1182.70 890.30 L1182.78 890.30 L1183.20 890.30 L1183.28 890.30 L1183.70 890.30 L1183.78 890.30 L1184.20 890.30 L1184.28 890.30 L1184.70 890.30 L1184.78 890.30 L1185.20 890.30 L1185.28 890.30 L1185.70 890.30 L1185.78 890.30 L1186.20 890.30 L1186.28 890.30 L1186.70 890.30 L1186.78 890.30 L1187.20 890.30 L1187.28 890.30 L1187.70 890.30 L1187.78 890.30 L1188.20 890.30 L1188.28 890.30 L1188.70 890.29 L1188.78 890.29 L1189.20 890.29 L1189.28 890.29 L1189.70 890.29 L1189.78 890.29 L1190.20 890.29 L1190.28 890.29 L1190.70 890.29 L1190.78 890.29 L1191.20 890.29 L1191.28 890.29 L1191.70 890.29 L1191.78 890.29 L1192.20 890.28 L1192.28 890.28 L1192.70 890.28 L1192.78 890.28 L1193.20 890.28 L1193.28 890.28 L1193.70 890.27 L1193.78 890.27 L1194.20 890.27 L1194.28 890.27 L1194.70 890.26 L1194.78 890.26 L1195.20 890.26 L1195.28 890.26 L1195.70 890.25 L1195.78 890.25 L1196.20 890.24 L1196.28 890.24 L1196.70 890.24 L1196.78 890.24 L1197.20 890.23 L1197.28 890.23 L1197.70 890.22 L1197.78 890.21 L1198.20 890.20 L1198.28 890.20 L1198.70 890.19 L1198.78 890.19 L1199.20 890.17 L1199.28 890.17 L1199.70 890.16 L1199.78 890.15 L1200.20 890.14 L1200.28 890.13 L1200.70 890.11 L1200.78 890.11 L1201.20 890.09 L1201.28 890.08 L1201.70 890.06 L1201.78 890.06 L1202.20 890.03 L1202.28 890.02 L1202.70 889.99 L1202.78 889.99 L1203.20 889.95 L1203.28 889.95 L1203.70 889.91 L1203.78 889.90 L1204.20 889.86 L1204.28 889.85 L1204.70 889.80 L1205.20 889.74 L1205.70 889.67 L1206.20 889.59 L1206.70 889.51 L1207.20 889.42 L1207.70 889.31 L1208.20 889.20 L1208.70 889.07 L1209.20 888.93 L1209.70 888.78 L1210.20 888.62 L1210.70 888.44 L1211.20 888.24 L1211.70 888.02 L1212.20 887.78 L1212.70 887.53 L1213.20 887.25 L1213.70 886.95 L1214.20 886.62 L1214.70 886.26 L1215.20 885.88 L1215.70 885.47 L1216.20 885.02 L1216.70 884.55 L1217.20 884.04 L1217.70 883.49 L1218.20 882.90 L1218.70 882.27 L1219.20 881.60 L1219.70 880.89 L1220.20 880.13 L1220.70 879.33 L1221.20 878.47 L1221.70 877.57 L1222.20 876.62 L1222.70 875.61 L1223.20 874.55 L1223.70 873.43 L1224.20 872.26 L1224.70 871.03 L1225.20 869.75 L1225.70 868.40 L1226.20 867.00 L1226.70 865.54 L1227.20 864.02 L1227.70 862.45 L1228.20 860.81 L1228.70 859.12 L1229.20 857.37 L1229.70 855.57 L1230.20 853.72 L1230.70 851.81 L1231.20 849.86 L1231.70 847.86 L1232.20 845.81 L1232.70 843.73 L1233.20 841.60 L1233.70 839.45 L1234.20 837.26 L1234.70 835.04 L1235.20 832.80 L1235.70 830.54 L1236.20 828.27 L1236.70 825.99 L1237.20 823.70 L1237.70 821.42 L1238.20 819.14 L1238.70 816.87 L1239.20 814.62 L1239.70 812.39 L1240.20 810.19 L1240.70 808.02 L1241.20 805.90 L1241.70 803.81 L1242.20 801.78 L1242.70 799.80 L1243.20 797.88 L1243.70 796.03 L1244.20 794.25 L1244.70 792.54 L1245.20 790.92 L1245.70 789.37 L1246.20 787.91 L1246.70 786.55 L1247.20 785.27 L1247.70 784.10 L1248.20 783.02 L1248.70 782.04 L1249.20 781.16 L1249.70 780.39 L1250.20 779.71 L1250.70 779.14 L1251.20 778.67 L1251.70 778.29 L1252.20 778.11 L1252.70 778.43 L1253.20 778.86 L1253.70 779.38 L1254.20 780.01 L1254.70 780.74 L1255.20 781.57 L1255.70 782.50 L1256.20 783.54 L1256.70 784.68 L1257.20 785.91 L1257.70 787.24 L1258.20 788.67 L1258.70 790.18 L1259.20 791.78 L1259.70 793.45 L1260.20 795.21 L1260.70 797.03 L1261.20 798.93 L1261.70 800.88 L1262.20 802.90 L1262.70 804.96 L1263.20 807.07 L1263.70 809.23 L1264.20 811.41 L1264.70 813.63 L1265.20 815.87 L1265.70 818.13 L1266.20 820.41 L1266.70 822.69 L1267.20 824.97 L1267.70 827.25 L1268.20 829.52 L1268.70 831.79 L1269.20 834.03 L1269.70 836.25 L1270.20 838.45 L1270.70 840.62 L1271.20 842.75 L1271.70 844.85 L1272.20 846.91 L1272.70 848.92 L1273.20 850.89 L1273.70 852.82 L1274.20 854.69 L1274.70 856.51 L1275.20 858.27 L1275.70 859.98 L1276.20 861.64 L1276.70 863.24 L1277.20 864.78 L1277.70 866.26 L1278.20 867.69 L1278.70 869.05 L1279.20 870.36 L1279.70 871.61 L1280.20 872.81 L1280.70 873.95 L1281.20 875.03 L1281.70 876.06 L1282.20 877.04 L1282.70 877.97 L1283.20 878.84 L1283.70 879.67 L1284.20 880.45 L1284.70 881.19 L1285.20 881.88 L1285.70 882.52 L1286.20 883.13 L1286.70 883.70 L1287.20 884.23 L1287.70 884.73 L1288.20 885.19 L1288.70 885.62 L1289.20 886.02 L1289.70 886.39 L1290.20 886.73 L1290.70 887.05 L1291.20 887.34 L1291.70 887.61 L1292.20 887.86 L1292.70 888.08 L1293.20 888.29 L1293.70 888.49 L1294.20 888.66 L1294.70 888.82 L1295.20 888.97 L1295.70 889.10 L1296.20 889.22 L1296.70 889.34 L1297.20 889.44 L1297.70 889.53 L1298.20 889.61 L1298.70 889.68 L1299.20 889.75 L1299.70 889.81 L1300.20 889.87 L1300.70 889.91 L1301.20 889.96 L1301.70 890.00 L1302.20 890.03 L1302.70 890.06 L1303.20 890.09 L1303.70 890.12 L1304.20 890.14 L1304.70 890.16 L1305.20 890.18 L1305.70 890.19 L1306.20 890.20 L1306.70 890.22 L1307.20 890.23 L1307.70 890.24 L1308.20 890.24 L1308.70 890.25 L1309.20 890.26 L1309.70 890.26 L1310.20 890.27 L1310.70 890.27 L1311.20 890.28 L1311.70 890.28 L1312.20 890.28 L1312.70 890.29 L1313.20 890.29 L1313.70 890.29 L1314.20 890.29 L1314.70 890.29 L1315.20 890.29 L1315.70 890.29 L1316.20 890.30 L1316.70 890.30 L1317.20 890.30 L1317.70 890.30 L1318.20 890.30 L1318.70 890.30 L1319.20 890.30 L1319.70 890.30 L1320.20 890.30 L1320.70 890.30 L1321.20 890.30 L1321.70 890.30 L1322.20 890.30 L1322.70 890.30 L1323.20 890.30 L1323.70 890.30 L1324.20 890.30 L1324.70 890.30 L1325.20 890.30 L1325.70 890.30 L1326.20 890.30 L1326.70 890.30 L1327.20 890.30 L1327.70 890.30 L1328.20 890.30 L1328.70 890.30 L1329.20 890.30 L1329.70 890.30 L1330.20 890.30 L1330.70 890.30 L1331.20 890.30 L1331.70 890.30 L1332.20 890.30 L1332.70 890.30 L1333.20 890.30 L1333.70 890.30 L1334.20 890.30 L1334.70 890.30 L1335.20 890.30 L1335.70 890.30 L1336.20 890.30 L1336.70 890.30 L1337.20 890.30 L1337.70 890.30 L1338.20 890.30 L1338.70 890.30 L1339.20 890.30 L1339.70 890.30 L1340.20 890.30 L1340.70 890.30 L1341.20 890.30 L1341.70 890.30 L1342.20 890.30 L1342.70 890.30 L1343.20 890.30 L1343.70 890.30 L1344.20 890.30 L1344.70 890.30 L1345.20 890.30 L1881.94 890.30 L1882.44 890.30 L1882.94 890.30 L1883.44 890.30 L1883.94 890.30 L1884.44 890.30 L1884.94 890.30 L1885.44 890.30 L1885.94 890.30 L1886.44 890.30 L1886.94 890.30 L1887.44 890.30 L1887.94 890.30 L1888.44 890.30 L1888.94 890.30 L1889.44 890.30 L1889.94 890.30 L1890.44 890.30 L1890.94 890.30 L1891.44 890.30 L1891.94 890.30 L1892.44 890.30 L1892.94 890.30 L1893.44 890.30 L1893.94 890.30 L1894.44 890.30 L1894.94 890.30 L1895.44 890.30 L1895.94 890.30 L1896.44 890.30 L1896.94 890.30 L1897.44 890.30 L1897.94 890.30 L1898.44 890.30 L1898.94 890.30 L1899.44 890.30 L1899.94 890.30 L1900.44 890.30 L1900.94 890.30 L1901.44 890.30 L1901.94 890.30 L1902.44 890.30 L1902.94 890.30 L1903.44 890.30 L1903.94 890.30 L1904.44 890.30 L1904.94 890.30 L1905.44 890.30 L1905.94 890.30 L1906.44 890.30 L1906.94 890.30 L1907.44 890.30 L1907.94 890.30 L1908.44 890.30 L1908.94 890.30 L1909.44 890.30 L1909.94 890.30 L1910.44 890.30 L1910.94 890.30 L1911.44 890.30 L1911.94 890.30 L1912.44 890.30 L1912.94 890.30 L1913.44 890.30 L1913.94 890.30 L1914.44 890.30 L1914.94 890.30 L1915.44 890.30 L1915.94 890.30 L1916.44 890.30 L1916.94 890.30 L1917.44 890.30 L1917.94 890.30 L1918.44 890.30 L1918.94 890.30 L1919.44 890.30 L1919.94 890.30 L1920.44 890.30 L1920.94 890.30 L1921.44 890.30 L1921.94 890.30 L1922.44 890.30 L1922.94 890.30 L1923.44 890.30 L1923.94 890.30 L1924.44 890.30 L1924.94 890.30 L1925.44 890.30 L1925.94 890.30 L1926.44 890.30 L1926.94 890.30 L1927.44 890.30 L1927.94 890.30 L1928.44 890.30 L1928.94 890.30 L1929.44 890.30 L1929.94 890.30 L1930.44 890.30 L1930.94 890.30 L1931.44 890.30 L1931.94 890.30 L1932.44 890.29 L1932.94 890.29 L1933.44 890.29 L1933.94 890.29 L1934.44 890.29 L1934.94 890.29 L1935.44 890.29 L1935.94 890.29 L1936.44 890.29 L1936.94 890.28 L1937.44 890.28 L1937.94 890.28 L1938.44 890.28 L1938.94 890.27 L1939.44 890.27 L1939.94 890.27 L1940.44 890.26 L1940.94 890.26 L1941.44 890.25 L1941.94 890.25 L1942.44 890.24 L1942.94 890.24 L1943.44 890.23 L1943.94 890.22 L1944.44 890.21 L1944.94 890.20 L1945.44 890.19 L1945.94 890.18 L1946.44 890.16 L1946.94 890.15 L1947.44 890.13 L1947.94 890.12 L1948.44 890.10 L1948.94 890.07 L1949.44 890.05 L1949.94 890.03 L1950.44 890.00 L1950.94 889.97 L1951.44 889.93 L1951.94 889.90 L1952.44 889.86 L1952.94 889.81 L1953.44 889.77 L1953.94 889.72 L1954.44 889.66 L1954.94 889.60 L1955.44 889.54 L1955.94 889.47 L1956.44 889.40 L1956.94 889.31 L1957.44 889.23 L1957.94 889.13 L1958.44 889.03 L1958.94 888.92 L1959.44 888.81 L1959.94 888.68 L1960.44 888.55 L1960.94 888.41 L1961.44 888.25 L1961.94 888.09 L1962.44 887.92 L1962.94 887.73 L1963.44 887.53 L1963.94 887.32 L1964.44 887.10 L1964.94 886.86 L1965.44 886.61 L1965.94 886.34 L1966.44 886.05 L1966.94 885.75 L1967.44 885.44 L1967.94 885.10 L1968.44 884.75 L1968.94 884.37 L1969.44 883.98 L1969.94 883.57 L1970.44 883.13 L1970.94 882.68 L1971.44 882.20 L1971.94 881.70 L1972.44 881.17 L1972.94 880.62 L1973.44 880.05 L1973.94 879.45 L1974.44 878.82 L1974.94 878.17 L1975.44 877.49 L1975.94 876.79 L1976.44 876.06 L1976.94 875.30 L1977.44 874.51 L1977.94 873.69 L1978.44 872.85 L1978.94 871.97 L1979.44 871.07 L1979.94 870.14 L1980.44 869.18 L1980.94 868.19 L1981.44 867.17 L1981.94 866.13 L1982.44 865.06 L1982.94 863.96 L1983.44 862.83 L1983.94 861.68 L1984.44 860.50 L1984.94 859.29 L1985.44 858.07 L1985.94 856.81 L1986.44 855.54 L1986.94 854.24 L1987.44 852.92 L1987.94 851.59 L1988.44 850.23 L1988.94 848.86 L1989.44 847.47 L1989.94 846.07 L1990.44 844.65 L1990.94 843.22 L1991.44 841.78 L1991.94 840.34 L1992.44 838.88 L1992.94 837.43 L1993.44 835.96 L1993.94 834.50 L1994.44 833.04 L1994.94 831.58 L1995.44 830.12 L1995.94 828.67 L1996.44 827.22 L1996.94 825.79 L1997.44 824.36 L1997.94 822.95 L1998.44 821.56 L1998.94 820.18 L1999.44 818.82 L1999.94 817.48 L2000.44 816.17 L2000.94 814.88 L2001.44 813.61 L2001.94 812.37 L2002.44 811.16 L2002.94 809.98 L2003.44 808.83 L2003.94 807.72 L2004.44 806.64 L2004.94 805.60 L2005.44 804.59 L2005.94 803.62 L2006.44 802.69 L2006.94 801.80 L2007.44 800.95 L2007.94 800.14 L2008.44 799.37 L2008.94 798.64 L2009.44 797.96 L2009.94 797.32 L2010.44 796.72 L2010.94 796.16 L2011.44 795.64 L2011.94 795.16 L2012.44 794.73 L2012.94 794.33 L2013.44 793.97 L2013.94 793.64 L2014.44 793.35 L2014.94 793.08 L2015.44 793.28 L2015.94 793.55 L2016.44 793.84 L2016.94 794.17 L2017.44 794.52 L2017.94 794.91 L2018.44 795.33 L2018.94 795.79 L2019.44 796.29 L2019.94 796.82 L2020.44 797.40 L2020.94 798.01 L2021.44 798.67 L2021.94 799.37 L2022.44 800.11 L2022.94 800.89 L2023.44 801.72 L2023.94 802.58 L2024.44 803.49 L2024.94 804.44 L2025.44 805.43 L2025.94 806.46 L2026.44 807.52 L2026.94 808.63 L2027.44 809.77 L2027.94 810.95 L2028.44 812.16 L2028.94 813.40 L2029.44 814.68 L2029.94 815.98 L2030.44 817.31 L2030.94 818.67 L2031.44 820.06 L2031.94 821.46 L2032.44 822.89 L2032.94 824.33 L2033.44 825.80 L2033.94 827.27 L2034.44 828.76 L2034.94 830.26 L2035.44 831.77 L2035.94 833.28 L2036.44 834.80 L2036.94 836.32 L2037.44 837.85 L2037.94 839.36 L2038.44 840.88 L2038.94 842.39 L2039.44 843.89 L2039.94 845.38 L2040.44 846.86 L2040.94 848.33 L2041.44 849.78 L2041.94 851.21 L2042.44 852.63 L2042.94 854.02 L2043.44 855.40 L2043.94 856.75 L2044.44 858.08 L2044.94 859.38 L2045.44 860.65 L2045.94 861.90 L2046.44 863.12 L2046.94 864.32 L2047.44 865.48 L2047.94 866.61 L2048.44 867.71 L2048.94 868.78 L2049.44 869.82 L2049.94 870.83 L2050.44 871.80 L2050.94 872.74 L2051.44 873.65 L2051.94 874.53 L2052.44 875.38 L2052.94 876.19 L2053.44 876.98 L2053.94 877.73 L2054.44 878.45 L2054.94 879.14 L2055.44 879.80 L2055.94 880.43 L2056.44 881.03 L2056.94 881.61 L2057.44 882.16 L2057.94 882.68 L2058.44 883.17 L2058.94 883.64 L2059.44 884.08 L2059.94 884.50 L2060.44 884.90 L2060.94 885.28 L2061.44 885.63 L2061.94 885.97 L2062.44 886.28 L2062.94 886.58 L2063.44 886.85 L2063.94 887.11 L2064.44 887.36 L2064.94 887.59 L2065.44 887.80 L2065.94 888.00 L2066.44 888.18 L2066.94 888.36 L2067.44 888.52 L2067.94 888.66 L2068.44 888.80 L2068.94 888.93 L2069.44 889.05 L2069.94 889.16 L2070.44 889.26 L2070.94 889.35 L2071.44 889.44 L2071.94 889.52 L2072.44 889.59 L2072.94 889.66 L2073.44 889.72 L2073.94 889.77 L2074.44 889.82 L2074.94 889.87 L2075.44 889.91 L2075.94 889.95 L2076.44 889.99 L2076.94 890.02 L2077.44 890.05 L2077.94 890.07 L2078.44 890.10 L2078.94 890.12 L2079.44 890.14 L2079.94 890.16 L2080.44 890.17 L2080.94 890.19 L2081.44 890.20 L2081.94 890.21 L2082.44 890.22 L2082.94 890.23 L2083.44 890.24 L2083.94 890.24 L2084.44 890.25 L2084.94 890.26 L2085.44 890.26 L2085.94 890.27 L2086.44 890.27 L2086.94 890.27 L2087.44 890.28 L2087.94 890.28 L2088.44 890.28 L2088.94 890.29 L2089.44 890.29 L2089.94 890.29 L2090.44 890.29 L2090.94 890.29 L2091.44 890.29 L2091.94 890.29 L2092.44 890.29 L2092.94 890.30 L2093.44 890.30 L2093.94 890.30 L2094.44 890.30 L2094.94 890.30 L2095.44 890.30 L2095.94 890.30 L2096.44 890.30 L2096.94 890.30 L2097.44 890.30 L2097.94 890.30 L2098.44 890.30 L2098.94 890.30 L2099.44 890.30 L2099.94 890.30 L2100.44 890.30 L2100.94 890.30 L2101.44 890.30 L2101.94 890.30 L2102.44 890.30 L2102.94 890.30 L2103.44 890.30 L2103.94 890.30 L2104.44 890.30 L2104.94 890.30 L2105.44 890.30 L2105.94 890.30 L2106.44 890.30 L2106.94 890.30 L2107.44 890.30 L2107.94 890.30 L2108.44 890.30 L2108.94 890.30 L2109.44 890.30 L2109.94 890.30 L2110.44 890.30 L2110.94 890.30 L2111.44 890.30 L2111.94 890.30 L2112.44 890.30 L2112.94 890.30 L2113.44 890.30 L2113.94 890.30 L2114.44 890.30 L2114.94 890.30 L2115.44 890.30 L2115.94 890.30 L2116.44 890.30 L2116.94 890.30 L2117.44 890.30 L2117.94 890.30 L2118.44 890.30 L2118.94 890.30 L2119.44 890.30 L2119.94 890.30 L2120.44 890.30 L2120.94 890.30 L2121.44 890.30 L2121.94 890.30 L2122.44 890.30 L2122.94 890.30 L2123.44 890.30 L2123.94 890.30 L2124.44 890.30 L2124.94 890.30 L2125.44 890.30 L2125.94 890.30 L2126.44 890.30 L2126.94 890.30 L2127.44 890.30 L2127.94 890.30 L2128.44 890.30 L2128.94 890.30 L2129.44 890.30 L2129.94 890.30 L2130.44 890.30 L2130.94 890.30 L2131.44 890.30 L2131.94 890.30 L2132.44 890.30 L2132.94 890.30 L2133.44 890.30 L2133.94 890.30 L2134.44 890.30 L2134.94 890.30 L2135.44 890.30 L2135.94 890.30 L2136.44 890.30 L2136.94 890.30 L2137.44 890.30 L2137.94 890.30 L2138.44 890.30 L2138.94 890.30 L2139.44 890.30 L2139.94 890.30 L2140.44 890.30 L2140.94 890.30 L2141.44 890.30 L2141.94 890.30 L2142.44 890.30 L2142.94 890.30 L2143.44 890.30 L2143.94 890.30 L2144.44 890.30 L2144.94 890.30 L2145.44 890.30 L2145.94 890.30 L2146.44 890.30 L2146.94 890.30 L2147.44 890.30 L2147.94 890.30 L2148.44 890.30 L2148.94 890.30 L2149.44 890.30 L2270.30 890.30 L2290.3 890.30" stroke="#008800" stroke-width="11.4"/>
<path d="M182.90 704.20 L928.95 704.20 L929.45 704.20 L929.95 704.20 L930.45 704.20 L930.95 704.20 L931.45 704.20 L931.95 704.20 L932.45 704.20 L932.95 704.20 L933.45 704.20 L933.95 704.20 L934.45 704.20 L934.95 704.20 L935.45 704.20 L935.95 704.20 L936.45 704.20 L936.95 704.20 L937.45 704.20 L937.95 704.20 L938.45 704.20 L938.95 704.20 L939.45 704.20 L939.95 704.20 L940.45 704.20 L940.95 704.20 L941.45 704.20 L941.95 704.20 L942.45 704.20 L942.95 704.20 L943.45 704.20 L943.95 704.20 L944.45 704.20 L944.95 704.20 L945.45 704.20 L945.95 704.20 L946.45 704.20 L946.95 704.20 L947.45 704.20 L947.95 704.20 L948.45 704.20 L948.95 704.20 L949.45 704.20 L949.95 704.20 L950.45 704.20 L950.95 704.20 L951.45 704.20 L951.95 704.20 L952.45 704.20 L952.95 704.20 L953.45 704.20 L953.95 704.20 L954.45 704.20 L954.95 704.20 L955.45 704.20 L955.95 704.20 L956.45 704.20 L956.95 704.20 L957.45 704.20 L957.95 704.20 L958.45 704.20 L958.95 704.20 L959.45 704.20 L959.95 704.20 L960.45 704.20 L960.95 704.20 L961.45 704.20 L961.95 704.20 L962.45 704.20 L962.95 704.20 L963.45 704.20 L963.95 704.20 L964.45 704.20 L964.95 704.20 L965.45 704.20 L965.95 704.20 L966.45 704.20 L966.95 704.20 L967.45 704.20 L967.95 704.20 L968.45 704.20 L968.95 704.20 L969.45 704.20 L969.95 704.20 L970.45 704.20 L970.95 704.20 L971.45 704.20 L971.95 704.20 L972.45 704.20 L972.95 704.20 L973.45 704.20 L973.95 704.19 L974.45 704.19 L974.95 704.19 L975.45 704.19 L975.95 704.19 L976.45 704.19 L976.95 704.19 L977.45 704.19 L977.95 704.19 L978.45 704.19 L978.95 704.19 L979.45 704.19 L979.95 704.18 L980.45 704.18 L980.95 704.18 L981.45 704.18 L981.95 704.18 L982.45 704.18 L982.95 704.17 L983.45 704.17 L983.95 704.17 L984.45 704.17 L984.95 704.16 L985.45 704.16 L985.95 704.16 L986.45 704.15 L986.95 704.15 L987.45 704.14 L987.95 704.14 L988.45 704.13 L988.95 704.13 L989.45 704.12 L989.95 704.11 L990.45 704.11 L990.95 704.10 L991.45 704.09 L991.95 704.08 L992.45 704.07 L992.95 704.06 L993.45 704.05 L993.95 704.04 L994.45 704.02 L994.95 704.01 L995.45 703.99 L995.95 703.98 L996.45 703.96 L996.95 703.94 L997.45 703.92 L997.95 703.90 L998.45 703.88 L998.95 703.85 L999.45 703.83 L999.95 703.80 L1000.45 703.77 L1000.95 703.74 L1001.45 703.71 L1001.95 703.67 L1002.45 703.63 L1002.95 703.59 L1003.45 703.55 L1003.95 703.50 L1004.45 703.45 L1004.95 703.40 L1005.45 703.35 L1005.95 703.29 L1006.45 703.23 L1006.95 703.16 L1007.45 703.09 L1007.95 703.02 L1008.45 702.94 L1008.95 702.85 L1009.45 702.77 L1009.95 702.67 L1010.45 702.57 L1010.95 702.47 L1011.45 702.36 L1011.95 702.25 L1012.45 702.12 L1012.95 702.00 L1013.45 701.86 L1013.95 701.72 L1014.45 701.57 L1014.95 701.41 L1015.45 701.24 L1015.95 701.07 L1016.45 700.89 L1016.95 700.69 L1017.45 700.49 L1017.95 700.28 L1018.45 700.06 L1018.95 699.82 L1019.45 699.58 L1019.95 699.32 L1020.45 699.06 L1020.95 698.78 L1021.45 698.49 L1021.95 698.18 L1022.45 697.86 L1022.95 697.53 L1023.45 697.18 L1023.95 696.82 L1024.45 696.45 L1024.95 696.06 L1025.45 695.65 L1025.95 695.22 L1026.45 694.78 L1026.95 694.32 L1027.45 693.85 L1027.95 693.35 L1028.45 692.84 L1028.95 692.31 L1029.45 691.76 L1029.95 691.19 L1030.45 690.59 L1030.95 689.98 L1031.45 689.35 L1031.95 688.70 L1032.45 688.02 L1032.95 687.32 L1033.45 686.60 L1033.95 685.86 L1034.45 685.09 L1034.95 684.30 L1035.45 683.49 L1035.95 682.66 L1036.45 681.79 L1036.95 680.91 L1037.45 680.00 L1037.95 679.07 L1038.45 678.11 L1038.95 677.13 L1039.45 676.12 L1039.95 675.09 L1040.45 674.03 L1040.95 672.95 L1041.45 671.85 L1041.95 670.72 L1042.45 669.56 L1042.95 668.38 L1043.45 667.18 L1043.95 665.95 L1044.45 664.70 L1044.95 663.43 L1045.45 662.13 L1045.95 660.81 L1046.45 659.47 L1046.95 658.11 L1047.45 656.73 L1047.95 655.32 L1048.45 653.90 L1048.95 652.45 L1049.45 650.99 L1049.95 649.51 L1050.45 648.02 L1050.95 646.50 L1051.45 644.98 L1051.95 643.43 L1052.45 641.88 L1052.95 640.31 L1053.45 638.73 L1053.95 637.14 L1054.45 635.54 L1054.95 633.93 L1055.45 632.31 L1055.95 630.69 L1056.45 629.06 L1056.95 627.43 L1057.45 625.80 L1057.95 624.17 L1058.45 622.53 L1058.95 620.90 L1059.45 619.27 L1059.95 617.65 L1060.45 616.03 L1060.95 614.42 L1061.45 612.82 L1061.95 611.23 L1062.45 609.65 L1062.95 608.08 L1063.45 606.53 L1063.95 604.99 L1064.45 603.47 L1064.95 601.97 L1065.45 600.49 L1065.95 599.03 L1066.45 597.60 L1066.95 596.19 L1067.45 594.81 L1067.95 593.45 L1068.45 592.12 L1068.95 590.82 L1069.45 589.56 L1069.95 588.32 L1070.45 587.12 L1070.95 585.96 L1071.45 584.83 L1071.95 583.74 L1072.45 582.69 L1072.95 581.68 L1073.45 580.70 L1073.95 579.77 L1074.45 578.88 L1074.95 578.04 L1075.45 577.23 L1075.95 576.47 L1076.45 575.76 L1076.95 575.09 L1077.45 574.47 L1077.95 573.90 L1078.45 573.37 L1078.95 572.88 L1079.45 572.45 L1079.95 572.06 L1080.45 571.72 L1080.95 571.42 L1081.45 571.17 L1081.95 571.15 L1082.45 571.38 L1082.95 571.65 L1083.45 571.94 L1083.95 572.27 L1084.45 572.65 L1084.95 573.06 L1085.45 573.51 L1085.95 574.00 L1086.45 574.54 L1086.95 575.12 L1087.45 575.74 L1087.95 576.41 L1088.45 577.12 L1088.95 577.87 L1089.45 578.67 L1089.95 579.51 L1090.45 580.40 L1090.95 581.33 L1091.45 582.30 L1091.95 583.31 L1092.45 584.36 L1092.95 585.46 L1093.45 586.59 L1093.95 587.77 L1094.45 588.98 L1094.95 590.22 L1095.45 591.51 L1095.95 592.83 L1096.45 594.18 L1096.95 595.56 L1097.45 596.98 L1097.95 598.42 L1098.45 599.90 L1098.95 601.40 L1099.45 602.92 L1099.95 604.47 L1100.45 606.04 L1100.95 607.64 L1101.45 609.25 L1101.95 610.88 L1102.45 612.52 L1102.95 614.18 L1103.45 615.86 L1103.95 617.54 L1104.45 619.24 L1104.95 620.94 L1105.45 622.65 L1105.95 624.36 L1106.45 626.07 L1106.95 627.79 L1107.45 629.51 L1107.95 631.22 L1108.45 632.94 L1108.95 634.64 L1109.45 636.34 L1109.95 638.04 L1110.45 639.72 L1110.95 641.40 L1111.45 643.06 L1111.95 644.71 L1112.45 646.35 L1112.95 647.97 L1113.45 649.57 L1113.95 651.16 L1114.45 652.72 L1114.95 654.27 L1115.45 655.80 L1115.95 657.30 L1116.45 658.79 L1116.95 660.25 L1117.45 661.68 L1117.95 663.09 L1118.45 664.48 L1118.95 665.84 L1119.45 667.17 L1119.95 668.48 L1120.45 669.76 L1120.95 671.01 L1121.45 672.24 L1121.95 673.43 L1122.45 674.60 L1122.95 675.74 L1123.45 676.85 L1123.95 677.94 L1124.45 678.99 L1124.95 680.02 L1125.45 681.01 L1125.95 681.98 L1126.45 682.92 L1126.95 683.83 L1127.45 684.72 L1127.95 685.57 L1128.45 686.40 L1128.95 687.20 L1129.45 687.98 L1129.95 688.73 L1130.45 689.45 L1130.95 690.15 L1131.45 690.82 L1131.95 691.47 L1132.45 692.09 L1132.95 692.69 L1133.45 693.26 L1133.95 693.82 L1134.45 694.35 L1134.95 694.86 L1135.45 695.35 L1135.95 695.81 L1136.45 696.26 L1136.95 696.69 L1137.45 697.10 L1137.95 697.49 L1138.45 697.86 L1138.95 698.22 L1139.45 698.56 L1139.95 698.88 L1140.45 699.19 L1140.95 699.48 L1141.45 699.76 L1141.95 700.03 L1142.45 700.28 L1142.95 700.52 L1143.45 700.74 L1143.95 700.96 L1144.45 701.16 L1144.95 701.35 L1145.45 701.53 L1145.95 701.70 L1146.45 701.87 L1146.95 702.02 L1147.45 702.16 L1147.95 702.30 L1148.45 702.43 L1148.95 702.55 L1149.45 702.66 L1149.95 702.76 L1150.45 702.86 L1150.95 702.96 L1151.45 703.05 L1151.95 703.13 L1152.45 703.20 L1152.95 703.28 L1153.45 703.34 L1153.95 703.41 L1154.45 703.47 L1154.95 703.52 L1155.45 703.57 L1155.95 703.62 L1156.45 703.66 L1156.95 703.71 L1157.45 703.74 L1157.95 703.78 L1158.45 703.81 L1158.95 703.84 L1159.45 703.87 L1159.95 703.90 L1160.45 703.92 L1160.95 703.95 L1161.45 703.97 L1161.95 703.99 L1162.45 704.00 L1162.95 704.02 L1163.45 704.04 L1163.95 704.05 L1164.45 704.06 L1164.95 704.07 L1165.45 704.09 L1165.95 704.10 L1166.45 704.10 L1166.95 704.11 L1167.45 704.12 L1167.95 704.13 L1168.45 704.13 L1168.95 704.14 L1169.45 704.15 L1169.95 704.15 L1170.45 704.16 L1170.95 704.16 L1171.45 704.16 L1171.95 704.17 L1172.45 704.17 L1172.95 704.17 L1173.45 704.18 L1173.95 704.18 L1174.45 704.18 L1174.95 704.18 L1175.45 704.18 L1175.95 704.19 L1176.45 704.19 L1176.95 704.19 L1177.45 704.19 L1177.95 704.19 L1178.45 704.19 L1178.95 704.19 L1179.45 704.19 L1179.95 704.19 L1180.45 704.19 L1180.95 704.20 L1181.45 704.20 L1181.95 704.20 L1182.45 704.20 L1182.95 704.20 L1183.45 704.20 L1183.95 704.20 L1184.45 704.20 L1184.95 704.20 L1185.45 704.20 L1185.95 704.20 L1186.45 704.20 L1186.95 704.20 L1187.45 704.20 L1187.95 704.20 L1188.45 704.20 L1188.95 704.20 L1189.45 704.20 L1189.95 704.20 L1190.45 704.20 L1190.95 704.20 L1191.45 704.20 L1191.95 704.20 L1192.45 704.20 L1192.95 704.20 L1193.45 704.20 L1193.95 704.20 L1194.45 704.20 L1194.95 704.20 L1195.45 704.20 L1195.50 704.20 L1195.95 704.20 L1196.00 704.20 L1196.45 704.20 L1196.50 704.20 L1196.95 704.20 L1197.00 704.20 L1197.45 704.20 L1197.50 704.20 L1197.95 704.20 L1198.00 704.20 L1198.45 704.20 L1198.50 704.20 L1198.95 704.20 L1199.00 704.20 L1199.45 704.20 L1199.50 704.20 L1199.95 704.20 L1200.00 704.20 L1200.45 704.20 L1200.50 704.20 L1200.95 704.20 L1201.00 704.20 L1201.45 704.20 L1201.50 704.20 L1201.95 704.20 L1202.00 704.20 L1202.45 704.20 L1202.50 704.20 L1202.95 704.20 L1203.00 704.20 L1203.45 704.20 L1203.50 704.20 L1203.95 704.20 L1204.00 704.20 L1204.45 704.20 L1204.50 704.20 L1204.95 704.20 L1205.00 704.20 L1205.45 704.20 L1205.50 704.20 L1205.95 704.20 L1206.00 704.20 L1206.45 704.20 L1206.50 704.20 L1206.95 704.20 L1207.00 704.20 L1207.45 704.20 L1207.50 704.20 L1207.95 704.20 L1208.00 704.20 L1208.45 704.20 L1208.50 704.20 L1208.95 704.20 L1209.00 704.20 L1209.45 704.20 L1209.50 704.20 L1209.95 704.20 L1210.00 704.20 L1210.45 704.19 L1210.50 704.19 L1210.95 704.19 L1211.00 704.19 L1211.45 704.19 L1211.50 704.19 L1211.95 704.19 L1212.00 704.19 L1212.45 704.18 L1212.50 704.18 L1212.95 704.18 L1213.00 704.18 L1213.45 704.17 L1213.50 704.17 L1213.95 704.16 L1214.00 704.16 L1214.45 704.16 L1214.50 704.15 L1214.95 704.14 L1215.00 704.14 L1215.45 704.13 L1215.50 704.13 L1215.95 704.11 L1216.00 704.11 L1216.45 704.09 L1216.50 704.09 L1216.95 704.06 L1217.00 704.06 L1217.45 704.03 L1217.50 704.02 L1217.95 703.99 L1218.00 703.98 L1218.45 703.94 L1218.50 703.93 L1218.95 703.88 L1219.00 703.87 L1219.45 703.81 L1219.50 703.80 L1219.95 703.73 L1220.00 703.72 L1220.45 703.63 L1220.50 703.62 L1220.95 703.51 L1221.00 703.50 L1221.45 703.37 L1221.50 703.35 L1221.95 703.21 L1222.00 703.19 L1222.45 703.02 L1222.50 703.00 L1222.95 702.79 L1223.00 702.77 L1223.45 702.54 L1223.50 702.51 L1223.95 702.24 L1224.00 702.21 L1224.45 701.90 L1224.50 701.87 L1224.95 701.51 L1225.00 701.47 L1225.45 701.07 L1225.50 701.02 L1225.95 700.57 L1226.00 700.52 L1226.45 700.01 L1226.50 699.95 L1226.95 699.37 L1227.00 699.31 L1227.45 698.67 L1227.50 698.59 L1227.95 697.88 L1228.00 697.80 L1228.45 697.01 L1228.50 696.92 L1228.95 696.05 L1229.00 695.95 L1229.45 695.00 L1229.50 694.89 L1229.95 693.85 L1230.00 693.73 L1230.45 692.61 L1230.50 692.48 L1230.95 691.26 L1231.00 691.12 L1231.45 689.82 L1231.50 689.67 L1231.95 688.27 L1232.00 688.11 L1232.45 686.63 L1232.50 686.46 L1232.95 684.89 L1233.00 684.71 L1233.45 683.06 L1233.50 682.87 L1233.95 681.14 L1234.00 680.95 L1234.45 679.15 L1234.50 678.95 L1234.95 677.10 L1235.00 676.89 L1235.45 674.98 L1235.50 674.77 L1235.95 672.82 L1236.00 672.61 L1236.45 670.63 L1236.50 670.41 L1237.00 668.21 L1237.50 666.00 L1238.00 663.82 L1238.50 661.68 L1239.00 659.59 L1239.50 657.57 L1240.00 655.65 L1240.50 653.85 L1241.00 652.17 L1241.50 650.64 L1242.00 649.27 L1242.50 648.09 L1243.00 647.09 L1243.50 646.29 L1244.00 645.69 L1244.50 645.38 L1245.00 645.66 L1245.50 646.01 L1246.00 646.46 L1246.50 647.02 L1247.00 647.70 L1247.50 648.52 L1248.00 649.47 L1248.50 650.56 L1249.00 651.79 L1249.50 653.16 L1250.00 654.66 L1250.50 656.28 L1251.00 658.02 L1251.50 659.86 L1252.00 661.80 L1252.50 663.81 L1253.00 665.88 L1253.50 668.01 L1254.00 670.16 L1254.50 672.32 L1255.00 674.49 L1255.50 676.63 L1256.00 678.74 L1256.50 680.80 L1257.00 682.80 L1257.50 684.73 L1258.00 686.57 L1258.50 688.32 L1259.00 689.97 L1259.50 691.52 L1260.00 692.96 L1260.50 694.29 L1261.00 695.51 L1261.50 696.62 L1262.00 697.63 L1262.50 698.54 L1263.00 699.35 L1263.50 700.07 L1264.00 700.70 L1264.50 701.26 L1265.00 701.74 L1265.50 702.15 L1266.00 702.51 L1266.50 702.81 L1267.00 703.07 L1267.50 703.28 L1268.00 703.46 L1268.50 703.61 L1269.00 703.73 L1269.50 703.83 L1270.00 703.91 L1270.50 703.97 L1271.00 704.02 L1271.50 704.07 L1272.00 704.10 L1272.50 704.12 L1273.00 704.14 L1273.50 704.16 L1274.00 704.17 L1274.50 704.18 L1275.00 704.18 L1275.50 704.19 L1276.00 704.19 L1276.50 704.19 L1277.00 704.20 L1277.50 704.20 L1278.00 704.20 L1278.50 704.20 L1279.00 704.20 L1279.50 704.20 L1280.00 704.20 L1280.50 704.20 L1281.00 704.20 L1281.50 704.20 L1282.00 704.20 L1282.50 704.20 L1283.00 704.20 L1283.50 704.20 L1284.00 704.20 L1284.50 704.20 L1285.00 704.20 L1285.50 704.20 L1286.00 704.20 L1286.50 704.20 L1287.00 704.20 L1287.50 704.20 L1288.00 704.20 L1288.50 704.20 L1289.00 704.20 L1289.50 704.20 L1290.00 704.20 L1290.50 704.20 L1291.00 704.20 L1291.50 704.20 L1292.00 704.20 L1292.50 704.20 L1293.00 704.20 L1293.50 704.20 L1294.00 704.20 L1294.50 704.20 L1295.00 704.20 L1295.50 704.20 L1296.00 704.20 L1296.50 704.20 L1297.00 704.20 L1297.50 704.20 L1298.00 704.20 L1298.50 704.20 L1299.00 704.20 L1299.50 704.20 L1300.00 704.20 L1300.50 704.20 L1301.00 704.20 L1301.50 704.20 L1302.00 704.20 L1302.50 704.20 L1303.00 704.20 L1303.50 704.20 L1923.00 704.20 L1923.50 704.20 L1924.00 704.20 L1924.50 704.20 L1925.00 704.20 L1925.50 704.20 L1926.00 704.20 L1926.50 704.20 L1927.00 704.20 L1927.50 704.20 L1928.00 704.20 L1928.50 704.20 L1929.00 704.20 L1929.50 704.20 L1930.00 704.20 L1930.50 704.20 L1931.00 704.20 L1931.50 704.20 L1932.00 704.20 L1932.50 704.20 L1933.00 704.20 L1933.50 704.20 L1934.00 704.20 L1934.50 704.20 L1935.00 704.20 L1935.50 704.20 L1936.00 704.20 L1936.50 704.20 L1937.00 704.20 L1937.50 704.20 L1938.00 704.20 L1938.50 704.20 L1939.00 704.20 L1939.50 704.20 L1940.00 704.20 L1940.50 704.20 L1941.00 704.20 L1941.50 704.20 L1942.00 704.20 L1942.50 704.20 L1943.00 704.20 L1943.50 704.20 L1944.00 704.20 L1944.50 704.20 L1945.00 704.20 L1945.50 704.20 L1946.00 704.20 L1946.50 704.20 L1947.00 704.20 L1947.50 704.20 L1948.00 704.20 L1948.50 704.20 L1949.00 704.20 L1949.50 704.20 L1950.00 704.20 L1950.50 704.20 L1951.00 704.20 L1951.50 704.20 L1952.00 704.20 L1952.50 704.20 L1953.00 704.20 L1953.50 704.20 L1954.00 704.20 L1954.50 704.20 L1955.00 704.20 L1955.50 704.20 L1956.00 704.20 L1956.50 704.20 L1957.00 704.20 L1957.50 704.20 L1958.00 704.20 L1958.50 704.20 L1959.00 704.20 L1959.50 704.20 L1960.00 704.20 L1960.50 704.20 L1961.00 704.19 L1961.50 704.19 L1962.00 704.19 L1962.50 704.19 L1963.00 704.19 L1963.50 704.19 L1964.00 704.18 L1964.50 704.18 L1965.00 704.18 L1965.50 704.17 L1966.00 704.17 L1966.50 704.16 L1967.00 704.16 L1967.50 704.15 L1968.00 704.14 L1968.50 704.13 L1969.00 704.12 L1969.50 704.11 L1970.00 704.09 L1970.50 704.07 L1971.00 704.05 L1971.50 704.03 L1972.00 704.01 L1972.50 703.98 L1973.00 703.95 L1973.50 703.91 L1974.00 703.87 L1974.50 703.82 L1975.00 703.77 L1975.50 703.71 L1976.00 703.64 L1976.50 703.57 L1977.00 703.49 L1977.50 703.40 L1978.00 703.29 L1978.50 703.18 L1979.00 703.06 L1979.50 702.92 L1980.00 702.76 L1980.50 702.60 L1981.00 702.41 L1981.50 702.21 L1982.00 701.99 L1982.50 701.74 L1983.00 701.48 L1983.50 701.19 L1984.00 700.87 L1984.50 700.53 L1985.00 700.16 L1985.50 699.76 L1986.00 699.33 L1986.50 698.87 L1987.00 698.37 L1987.50 697.84 L1988.00 697.26 L1988.50 696.65 L1989.00 696.00 L1989.50 695.30 L1990.00 694.56 L1990.50 693.77 L1991.00 692.94 L1991.50 692.06 L1992.00 691.13 L1992.50 690.16 L1993.00 689.13 L1993.50 688.05 L1994.00 686.92 L1994.50 685.74 L1995.00 684.51 L1995.50 683.23 L1996.00 681.90 L1996.50 680.52 L1997.00 679.09 L1997.50 677.62 L1998.00 676.10 L1998.50 674.53 L1999.00 672.92 L1999.50 671.28 L2000.00 669.59 L2000.50 667.87 L2001.00 666.12 L2001.50 664.35 L2002.00 662.54 L2002.50 660.72 L2003.00 658.87 L2003.50 657.02 L2004.00 655.15 L2004.50 653.28 L2005.00 651.40 L2005.50 649.53 L2006.00 647.67 L2006.50 645.82 L2007.00 643.99 L2007.50 642.18 L2008.00 640.39 L2008.50 638.64 L2009.00 636.92 L2009.50 635.24 L2010.00 633.60 L2010.50 632.01 L2011.00 630.48 L2011.50 628.99 L2012.00 627.57 L2012.50 626.21 L2013.00 624.91 L2013.50 623.68 L2014.00 622.52 L2014.50 621.42 L2015.00 620.41 L2015.50 619.46 L2016.00 618.59 L2016.50 617.79 L2017.00 617.07 L2017.50 616.42 L2018.00 615.84 L2018.50 615.33 L2019.00 614.89 L2019.50 614.51 L2020.00 614.18 L2020.50 613.99 L2021.00 614.28 L2021.50 614.61 L2022.00 615.01 L2022.50 615.46 L2023.00 615.98 L2023.50 616.56 L2024.00 617.22 L2024.50 617.95 L2025.00 618.74 L2025.50 619.62 L2026.00 620.56 L2026.50 621.57 L2027.00 622.66 L2027.50 623.81 L2028.00 625.03 L2028.50 626.31 L2029.00 627.66 L2029.50 629.06 L2030.00 630.53 L2030.50 632.04 L2031.00 633.61 L2031.50 635.22 L2032.00 636.87 L2032.50 638.57 L2033.00 640.29 L2033.50 642.05 L2034.00 643.83 L2034.50 645.64 L2035.00 647.46 L2035.50 649.29 L2036.00 651.13 L2036.50 652.98 L2037.00 654.83 L2037.50 656.67 L2038.00 658.50 L2038.50 660.32 L2039.00 662.12 L2039.50 663.91 L2040.00 665.67 L2040.50 667.40 L2041.00 669.10 L2041.50 670.77 L2042.00 672.41 L2042.50 674.00 L2043.00 675.56 L2043.50 677.08 L2044.00 678.55 L2044.50 679.97 L2045.00 681.35 L2045.50 682.68 L2046.00 683.97 L2046.50 685.20 L2047.00 686.39 L2047.50 687.52 L2048.00 688.61 L2048.50 689.65 L2049.00 690.64 L2049.50 691.58 L2050.00 692.47 L2050.50 693.32 L2051.00 694.12 L2051.50 694.87 L2052.00 695.58 L2052.50 696.25 L2053.00 696.88 L2053.50 697.47 L2054.00 698.02 L2054.50 698.54 L2055.00 699.02 L2055.50 699.47 L2056.00 699.88 L2056.50 700.27 L2057.00 700.63 L2057.50 700.95 L2058.00 701.26 L2058.50 701.54 L2059.00 701.79 L2059.50 702.03 L2060.00 702.25 L2060.50 702.44 L2061.00 702.62 L2061.50 702.79 L2062.00 702.94 L2062.50 703.07 L2063.00 703.19 L2063.50 703.30 L2064.00 703.40 L2064.50 703.49 L2065.00 703.57 L2065.50 703.65 L2066.00 703.71 L2066.50 703.77 L2067.00 703.82 L2067.50 703.87 L2068.00 703.91 L2068.50 703.94 L2069.00 703.98 L2069.50 704.00 L2070.00 704.03 L2070.50 704.05 L2071.00 704.07 L2071.50 704.09 L2072.00 704.10 L2072.50 704.12 L2073.00 704.13 L2073.50 704.14 L2074.00 704.15 L2074.50 704.15 L2075.00 704.16 L2075.50 704.17 L2076.00 704.17 L2076.50 704.18 L2077.00 704.18 L2077.50 704.18 L2078.00 704.19 L2078.50 704.19 L2079.00 704.19 L2079.50 704.19 L2080.00 704.19 L2080.50 704.19 L2081.00 704.19 L2081.50 704.20 L2082.00 704.20 L2082.50 704.20 L2083.00 704.20 L2083.50 704.20 L2084.00 704.20 L2084.50 704.20 L2085.00 704.20 L2085.50 704.20 L2086.00 704.20 L2086.50 704.20 L2087.00 704.20 L2087.50 704.20 L2088.00 704.20 L2088.50 704.20 L2089.00 704.20 L2089.50 704.20 L2090.00 704.20 L2090.50 704.20 L2091.00 704.20 L2091.50 704.20 L2092.00 704.20 L2092.50 704.20 L2093.00 704.20 L2093.50 704.20 L2094.00 704.20 L2094.50 704.20 L2095.00 704.20 L2095.50 704.20 L2096.00 704.20 L2096.50 704.20 L2097.00 704.20 L2097.50 704.20 L2098.00 704.20 L2098.50 704.20 L2099.00 704.20 L2099.50 704.20 L2100.00 704.20 L2100.50 704.20 L2101.00 704.20 L2101.50 704.20 L2102.00 704.20 L2102.50 704.20 L2103.00 704.20 L2103.50 704.20 L2104.00 704.20 L2104.50 704.20 L2105.00 704.20 L2105.50 704.20 L2106.00 704.20 L2106.50 704.20 L2107.00 704.20 L2107.50 704.20 L2108.00 704.20 L2108.50 704.20 L2109.00 704.20 L2109.50 704.20 L2110.00 704.20 L2110.50 704.20 L2111.00 704.20 L2111.50 704.20 L2112.00 704.20 L2112.50 704.20 L2113.00 704.20 L2113.50 704.20 L2114.00 704.20 L2114.50 704.20 L2115.00 704.20 L2115.50 704.20 L2116.00 704.20 L2116.50 704.20 L2117.00 704.20 L2117.50 704.20 L2118.00 704.20 L2118.50 704.20 L2119.00 704.20 L2270.30 704.20 L2290.3 704.20" stroke="#bf00cf" stroke-width="11.4"/>
</g>
</svg>
</body></html>
